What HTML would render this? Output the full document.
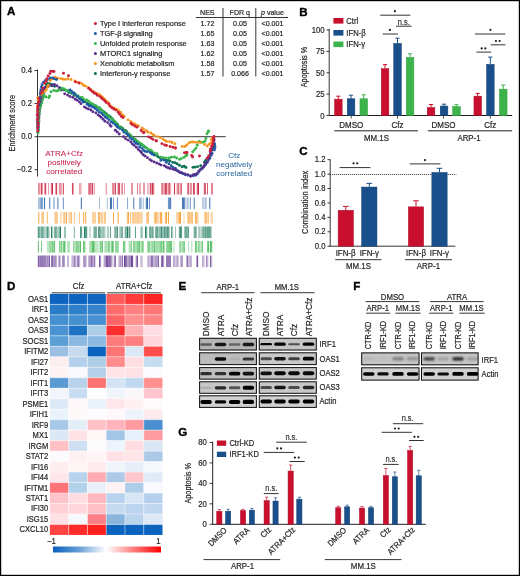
<!DOCTYPE html>
<html><head><meta charset="utf-8"><style>
html,body{margin:0;padding:0;background:#fff;}
svg{display:block;font-family:"Liberation Sans", sans-serif;will-change:transform;}
</style></head><body>
<svg width="520" height="576" viewBox="0 0 520 576">
<rect width="520" height="576" fill="#fff"/>
<rect x="0.5" y="0.5" width="519" height="575" fill="none" stroke="#000" stroke-width="1.4"/>
<text x="6.9" y="15.4" font-size="11.6" font-weight="bold" fill="#000" stroke="#000" stroke-width="0.35">A</text>
<text x="299.3" y="15.9" font-size="11.6" font-weight="bold" fill="#000" stroke="#000" stroke-width="0.35">B</text>
<text x="299.2" y="154.9" font-size="11.6" font-weight="bold" fill="#000" stroke="#000" stroke-width="0.35">C</text>
<text x="6.9" y="289.6" font-size="11.6" font-weight="bold" fill="#000" stroke="#000" stroke-width="0.35">D</text>
<text x="178.4" y="290.2" font-size="11.6" font-weight="bold" fill="#000" stroke="#000" stroke-width="0.35">E</text>
<text x="353.2" y="290.1" font-size="11.6" font-weight="bold" fill="#000" stroke="#000" stroke-width="0.35">F</text>
<text x="178.3" y="436.0" font-size="11.6" font-weight="bold" fill="#000" stroke="#000" stroke-width="0.35">G</text>
<circle cx="95.4" cy="23.50" r="1.5" fill="#cc1f3b"/>
<text x="100" y="26.1" font-size="7.40" text-anchor="start" fill="#231f20" stroke="#231f20" stroke-width="0.2" font-weight="normal" >Type I interferon response</text>
<text x="0" y="0" font-size="7.95" text-anchor="middle" fill="#231f20" stroke="#231f20" stroke-width="0.2" font-weight="normal"  transform="translate(207.5,26.1) scale(0.8929,1)">1.72</text>
<text x="0" y="0" font-size="7.95" text-anchor="middle" fill="#231f20" stroke="#231f20" stroke-width="0.2" font-weight="normal"  transform="translate(240,26.1) scale(0.8929,1)">0.05</text>
<text x="0" y="0" font-size="7.95" text-anchor="middle" fill="#231f20" stroke="#231f20" stroke-width="0.2" font-weight="normal"  transform="translate(272.5,26.1) scale(0.8929,1)">&lt;0.001</text>
<circle cx="95.4" cy="33.48" r="1.5" fill="#1f5aa6"/>
<text x="100" y="36.080000000000005" font-size="7.40" text-anchor="start" fill="#231f20" stroke="#231f20" stroke-width="0.2" font-weight="normal" >TGF-&#946; signaling</text>
<text x="0" y="0" font-size="7.95" text-anchor="middle" fill="#231f20" stroke="#231f20" stroke-width="0.2" font-weight="normal"  transform="translate(207.5,36.080000000000005) scale(0.8929,1)">1.65</text>
<text x="0" y="0" font-size="7.95" text-anchor="middle" fill="#231f20" stroke="#231f20" stroke-width="0.2" font-weight="normal"  transform="translate(240,36.080000000000005) scale(0.8929,1)">0.05</text>
<text x="0" y="0" font-size="7.95" text-anchor="middle" fill="#231f20" stroke="#231f20" stroke-width="0.2" font-weight="normal"  transform="translate(272.5,36.080000000000005) scale(0.8929,1)">&lt;0.001</text>
<circle cx="95.4" cy="43.46" r="1.5" fill="#39b54a"/>
<text x="100" y="46.06" font-size="7.40" text-anchor="start" fill="#231f20" stroke="#231f20" stroke-width="0.2" font-weight="normal" >Unfolded protein response</text>
<text x="0" y="0" font-size="7.95" text-anchor="middle" fill="#231f20" stroke="#231f20" stroke-width="0.2" font-weight="normal"  transform="translate(207.5,46.06) scale(0.8929,1)">1.63</text>
<text x="0" y="0" font-size="7.95" text-anchor="middle" fill="#231f20" stroke="#231f20" stroke-width="0.2" font-weight="normal"  transform="translate(240,46.06) scale(0.8929,1)">0.05</text>
<text x="0" y="0" font-size="7.95" text-anchor="middle" fill="#231f20" stroke="#231f20" stroke-width="0.2" font-weight="normal"  transform="translate(272.5,46.06) scale(0.8929,1)">&lt;0.001</text>
<circle cx="95.4" cy="53.44" r="1.5" fill="#5a2d8c"/>
<text x="100" y="56.04" font-size="7.40" text-anchor="start" fill="#231f20" stroke="#231f20" stroke-width="0.2" font-weight="normal" >MTORC1 signaling</text>
<text x="0" y="0" font-size="7.95" text-anchor="middle" fill="#231f20" stroke="#231f20" stroke-width="0.2" font-weight="normal"  transform="translate(207.5,56.04) scale(0.8929,1)">1.62</text>
<text x="0" y="0" font-size="7.95" text-anchor="middle" fill="#231f20" stroke="#231f20" stroke-width="0.2" font-weight="normal"  transform="translate(240,56.04) scale(0.8929,1)">0.05</text>
<text x="0" y="0" font-size="7.95" text-anchor="middle" fill="#231f20" stroke="#231f20" stroke-width="0.2" font-weight="normal"  transform="translate(272.5,56.04) scale(0.8929,1)">&lt;0.001</text>
<circle cx="95.4" cy="63.42" r="1.5" fill="#f7941d"/>
<text x="100" y="66.02" font-size="7.40" text-anchor="start" fill="#231f20" stroke="#231f20" stroke-width="0.2" font-weight="normal" >Xenobiotic metabolism</text>
<text x="0" y="0" font-size="7.95" text-anchor="middle" fill="#231f20" stroke="#231f20" stroke-width="0.2" font-weight="normal"  transform="translate(207.5,66.02) scale(0.8929,1)">1.58</text>
<text x="0" y="0" font-size="7.95" text-anchor="middle" fill="#231f20" stroke="#231f20" stroke-width="0.2" font-weight="normal"  transform="translate(240,66.02) scale(0.8929,1)">0.05</text>
<text x="0" y="0" font-size="7.95" text-anchor="middle" fill="#231f20" stroke="#231f20" stroke-width="0.2" font-weight="normal"  transform="translate(272.5,66.02) scale(0.8929,1)">&lt;0.001</text>
<circle cx="95.4" cy="73.40" r="1.5" fill="#0a6e52"/>
<text x="100" y="76.0" font-size="7.40" text-anchor="start" fill="#231f20" stroke="#231f20" stroke-width="0.2" font-weight="normal" >Interferon-&#947; response</text>
<text x="0" y="0" font-size="7.95" text-anchor="middle" fill="#231f20" stroke="#231f20" stroke-width="0.2" font-weight="normal"  transform="translate(207.5,76.0) scale(0.8929,1)">1.57</text>
<text x="0" y="0" font-size="7.95" text-anchor="middle" fill="#231f20" stroke="#231f20" stroke-width="0.2" font-weight="normal"  transform="translate(240,76.0) scale(0.8929,1)">0.066</text>
<text x="0" y="0" font-size="7.95" text-anchor="middle" fill="#231f20" stroke="#231f20" stroke-width="0.2" font-weight="normal"  transform="translate(272.5,76.0) scale(0.8929,1)">&lt;0.001</text>
<text x="0" y="0" font-size="7.95" text-anchor="middle" fill="#231f20" stroke="#231f20" stroke-width="0.2" font-weight="normal"  transform="translate(207.3,14.6) scale(0.8929,1)">NES</text>
<text x="0" y="0" font-size="7.95" text-anchor="middle" fill="#231f20" stroke="#231f20" stroke-width="0.2" font-weight="normal"  transform="translate(239.8,14.6) scale(0.8929,1)">FDR q</text>
<text x="0" y="0" transform="translate(272.4,14.6) scale(0.8929,1)" font-size="7.95" text-anchor="middle" fill="#231f20" stroke="#231f20" stroke-width="0.2"><tspan font-style="italic">p</tspan> value</text>
<line x1="195.8" y1="17.5" x2="288" y2="17.5" stroke="#231f20" stroke-width="0.9" />
<line x1="223" y1="7.9" x2="223" y2="76.5" stroke="#231f20" stroke-width="0.9" />
<line x1="255.8" y1="7.9" x2="255.8" y2="76.5" stroke="#231f20" stroke-width="0.9" />
<line x1="37.5" y1="69.5" x2="37.5" y2="176.5" stroke="#231f20" stroke-width="0.9" />
<line x1="34.5" y1="70.5" x2="37.5" y2="70.5" stroke="#231f20" stroke-width="0.9" />
<text x="0" y="0" font-size="8.74" text-anchor="end" fill="#231f20" stroke="#231f20" stroke-width="0.2" font-weight="normal"  transform="translate(32,73.2) scale(0.8929,1)">0.4</text>
<line x1="34.5" y1="103.5" x2="37.5" y2="103.5" stroke="#231f20" stroke-width="0.9" />
<text x="0" y="0" font-size="8.74" text-anchor="end" fill="#231f20" stroke="#231f20" stroke-width="0.2" font-weight="normal"  transform="translate(32,106.2) scale(0.8929,1)">0.2</text>
<line x1="34.5" y1="136.7" x2="37.5" y2="136.7" stroke="#231f20" stroke-width="0.9" />
<text x="0" y="0" font-size="8.74" text-anchor="end" fill="#231f20" stroke="#231f20" stroke-width="0.2" font-weight="normal"  transform="translate(32,139.39999999999998) scale(0.8929,1)">0.0</text>
<line x1="34.5" y1="169.7" x2="37.5" y2="169.7" stroke="#231f20" stroke-width="0.9" />
<text x="0" y="0" font-size="8.74" text-anchor="end" fill="#231f20" stroke="#231f20" stroke-width="0.2" font-weight="normal"  transform="translate(32,172.39999999999998) scale(0.8929,1)">&#8722;0.2</text>
<line x1="37.5" y1="136.7" x2="225.7" y2="136.7" stroke="#231f20" stroke-width="0.9" />
<text x="0" y="0" font-size="8.30" text-anchor="middle" fill="#231f20" stroke="#231f20" stroke-width="0.2" font-weight="normal" transform="translate(14.9,123.2) rotate(-90) scale(0.875,1)">Enrichment score</text>
<text x="64.2" y="155.9" font-size="8.10" text-anchor="middle" fill="#c9244f" stroke="#c9244f" stroke-width="0.05" font-weight="normal" >ATRA+Cfz</text>
<text x="64.2" y="165.1" font-size="8.10" text-anchor="middle" fill="#c9244f" stroke="#c9244f" stroke-width="0.05" font-weight="normal" >positively</text>
<text x="64.2" y="174.3" font-size="8.10" text-anchor="middle" fill="#c9244f" stroke="#c9244f" stroke-width="0.05" font-weight="normal" >correlated</text>
<text x="234.2" y="157.8" font-size="8.10" text-anchor="middle" fill="#336ca6" stroke="#336ca6" stroke-width="0.05" font-weight="normal" >Cfz</text>
<text x="234.2" y="167.0" font-size="8.10" text-anchor="middle" fill="#336ca6" stroke="#336ca6" stroke-width="0.05" font-weight="normal" >negatively</text>
<text x="234.2" y="176.2" font-size="8.10" text-anchor="middle" fill="#336ca6" stroke="#336ca6" stroke-width="0.05" font-weight="normal" >correlated</text>
<g fill="#0a6e52"><circle cx="37.95" cy="127.00" r="1.45"/><circle cx="38.17" cy="123.86" r="1.45"/><circle cx="38.07" cy="121.16" r="1.45"/><circle cx="38.86" cy="118.47" r="1.45"/><circle cx="38.31" cy="116.14" r="1.45"/><circle cx="38.45" cy="113.31" r="1.45"/><circle cx="39.53" cy="110.21" r="1.45"/><circle cx="39.33" cy="108.03" r="1.45"/><circle cx="39.90" cy="106.15" r="1.45"/><circle cx="40.56" cy="104.33" r="1.45"/><circle cx="41.23" cy="101.38" r="1.45"/><circle cx="41.94" cy="98.91" r="1.45"/><circle cx="42.81" cy="96.80" r="1.45"/><circle cx="43.27" cy="93.79" r="1.45"/><circle cx="43.39" cy="91.57" r="1.45"/><circle cx="44.53" cy="88.85" r="1.45"/><circle cx="46.18" cy="87.02" r="1.45"/><circle cx="46.44" cy="85.02" r="1.45"/><circle cx="47.75" cy="83.46" r="1.45"/><circle cx="49.69" cy="83.96" r="1.45"/><circle cx="51.96" cy="84.39" r="1.45"/><circle cx="54.60" cy="86.33" r="1.45"/><circle cx="59.62" cy="87.75" r="1.45"/><circle cx="61.93" cy="88.68" r="1.45"/><circle cx="63.67" cy="89.88" r="1.45"/><circle cx="66.10" cy="90.41" r="1.45"/><circle cx="68.70" cy="92.39" r="1.45"/><circle cx="71.70" cy="93.36" r="1.45"/><circle cx="74.17" cy="95.20" r="1.45"/><circle cx="77.19" cy="96.43" r="1.45"/><circle cx="79.67" cy="98.00" r="1.45"/><circle cx="81.51" cy="98.78" r="1.45"/><circle cx="83.16" cy="100.33" r="1.45"/><circle cx="85.15" cy="101.89" r="1.45"/><circle cx="87.50" cy="103.14" r="1.45"/><circle cx="89.41" cy="104.08" r="1.45"/><circle cx="91.72" cy="104.34" r="1.45"/><circle cx="94.61" cy="105.64" r="1.45"/><circle cx="97.26" cy="107.28" r="1.45"/><circle cx="99.29" cy="107.85" r="1.45"/><circle cx="100.69" cy="109.67" r="1.45"/><circle cx="103.20" cy="111.33" r="1.45"/><circle cx="104.85" cy="112.67" r="1.45"/><circle cx="106.52" cy="114.05" r="1.45"/><circle cx="108.67" cy="115.73" r="1.45"/><circle cx="110.41" cy="117.02" r="1.45"/><circle cx="112.19" cy="118.77" r="1.45"/><circle cx="113.64" cy="120.70" r="1.45"/><circle cx="115.23" cy="122.49" r="1.45"/><circle cx="117.47" cy="124.15" r="1.45"/><circle cx="121.40" cy="127.54" r="1.45"/><circle cx="122.89" cy="128.73" r="1.45"/><circle cx="125.30" cy="130.34" r="1.45"/><circle cx="126.67" cy="131.78" r="1.45"/><circle cx="128.94" cy="133.92" r="1.45"/><circle cx="131.05" cy="136.00" r="1.45"/><circle cx="133.15" cy="137.87" r="1.45"/><circle cx="135.04" cy="139.43" r="1.45"/><circle cx="137.13" cy="141.09" r="1.45"/><circle cx="139.13" cy="142.87" r="1.45"/><circle cx="141.05" cy="144.91" r="1.45"/><circle cx="143.72" cy="146.15" r="1.45"/><circle cx="145.83" cy="147.79" r="1.45"/><circle cx="149.55" cy="150.64" r="1.45"/><circle cx="151.90" cy="152.23" r="1.45"/><circle cx="156.35" cy="155.34" r="1.45"/><circle cx="158.00" cy="156.68" r="1.45"/><circle cx="160.21" cy="157.99" r="1.45"/><circle cx="163.07" cy="158.26" r="1.45"/><circle cx="165.65" cy="159.92" r="1.45"/><circle cx="168.03" cy="160.40" r="1.45"/><circle cx="170.00" cy="161.00" r="1.45"/><circle cx="172.75" cy="162.33" r="1.45"/><circle cx="175.04" cy="162.66" r="1.45"/><circle cx="177.07" cy="163.71" r="1.45"/><circle cx="179.39" cy="165.19" r="1.45"/><circle cx="182.07" cy="166.76" r="1.45"/><circle cx="184.22" cy="166.32" r="1.45"/><circle cx="185.91" cy="167.49" r="1.45"/><circle cx="192.96" cy="167.34" r="1.45"/><circle cx="194.93" cy="167.16" r="1.45"/><circle cx="197.61" cy="166.64" r="1.45"/><circle cx="200.67" cy="165.66" r="1.45"/><circle cx="204.46" cy="162.29" r="1.45"/><circle cx="205.65" cy="160.34" r="1.45"/><circle cx="207.51" cy="158.52" r="1.45"/><circle cx="209.10" cy="156.69" r="1.45"/><circle cx="210.44" cy="155.05" r="1.45"/><circle cx="210.68" cy="152.95" r="1.45"/><circle cx="211.66" cy="149.98" r="1.45"/><circle cx="213.18" cy="147.30" r="1.45"/><circle cx="214.18" cy="144.99" r="1.45"/><circle cx="214.50" cy="144.00" r="1.45"/></g>
<g fill="#1f5aa6"><circle cx="160.96" cy="160.32" r="1.45"/><circle cx="163.88" cy="160.07" r="1.45"/><circle cx="166.21" cy="162.23" r="1.45"/><circle cx="168.85" cy="163.72" r="1.45"/><circle cx="171.16" cy="165.68" r="1.45"/><circle cx="173.03" cy="167.33" r="1.45"/><circle cx="175.38" cy="168.44" r="1.45"/><circle cx="176.48" cy="170.24" r="1.45"/><circle cx="178.47" cy="171.56" r="1.45"/><circle cx="180.45" cy="172.24" r="1.45"/><circle cx="183.12" cy="173.74" r="1.45"/><circle cx="185.46" cy="174.79" r="1.45"/><circle cx="187.66" cy="175.06" r="1.45"/><circle cx="190.45" cy="175.80" r="1.45"/><circle cx="193.47" cy="175.82" r="1.45"/><circle cx="195.83" cy="175.15" r="1.45"/><circle cx="197.37" cy="173.63" r="1.45"/><circle cx="199.01" cy="171.60" r="1.45"/><circle cx="200.69" cy="169.60" r="1.45"/><circle cx="202.31" cy="168.48" r="1.45"/><circle cx="203.82" cy="166.60" r="1.45"/><circle cx="205.55" cy="164.72" r="1.45"/><circle cx="207.12" cy="162.64" r="1.45"/><circle cx="208.61" cy="159.86" r="1.45"/><circle cx="209.81" cy="158.19" r="1.45"/><circle cx="211.10" cy="155.37" r="1.45"/><circle cx="212.07" cy="153.46" r="1.45"/><circle cx="214.28" cy="150.06" r="1.45"/><circle cx="214.72" cy="148.37" r="1.45"/><circle cx="214.93" cy="146.33" r="1.45"/><circle cx="214.50" cy="144.00" r="1.45"/></g>
<g fill="#5a2d8c"><circle cx="37.75" cy="132.00" r="1.45"/><circle cx="37.94" cy="129.40" r="1.45"/><circle cx="38.03" cy="126.95" r="1.45"/><circle cx="38.13" cy="124.80" r="1.45"/><circle cx="38.35" cy="122.19" r="1.45"/><circle cx="37.85" cy="119.11" r="1.45"/><circle cx="38.91" cy="116.24" r="1.45"/><circle cx="39.23" cy="113.95" r="1.45"/><circle cx="39.63" cy="110.73" r="1.45"/><circle cx="39.76" cy="108.52" r="1.45"/><circle cx="40.13" cy="106.55" r="1.45"/><circle cx="39.92" cy="103.51" r="1.45"/><circle cx="40.36" cy="100.73" r="1.45"/><circle cx="41.79" cy="98.14" r="1.45"/><circle cx="41.79" cy="96.07" r="1.45"/><circle cx="42.57" cy="93.62" r="1.45"/><circle cx="43.62" cy="89.14" r="1.45"/><circle cx="44.90" cy="87.51" r="1.45"/><circle cx="47.77" cy="86.83" r="1.45"/><circle cx="49.59" cy="85.57" r="1.45"/><circle cx="52.19" cy="85.68" r="1.45"/><circle cx="54.45" cy="84.54" r="1.45"/><circle cx="56.89" cy="85.73" r="1.45"/><circle cx="59.13" cy="87.84" r="1.45"/><circle cx="61.07" cy="90.00" r="1.45"/><circle cx="64.69" cy="93.84" r="1.45"/><circle cx="67.50" cy="95.08" r="1.45"/><circle cx="69.84" cy="96.38" r="1.45"/><circle cx="72.66" cy="97.35" r="1.45"/><circle cx="75.13" cy="98.94" r="1.45"/><circle cx="77.05" cy="100.28" r="1.45"/><circle cx="79.39" cy="101.88" r="1.45"/><circle cx="80.95" cy="103.63" r="1.45"/><circle cx="84.35" cy="106.83" r="1.45"/><circle cx="86.18" cy="108.09" r="1.45"/><circle cx="88.40" cy="108.88" r="1.45"/><circle cx="90.75" cy="110.00" r="1.45"/><circle cx="92.91" cy="111.75" r="1.45"/><circle cx="95.98" cy="112.92" r="1.45"/><circle cx="98.15" cy="114.91" r="1.45"/><circle cx="99.71" cy="116.08" r="1.45"/><circle cx="101.25" cy="117.38" r="1.45"/><circle cx="103.14" cy="119.22" r="1.45"/><circle cx="104.91" cy="121.26" r="1.45"/><circle cx="107.71" cy="122.61" r="1.45"/><circle cx="109.79" cy="124.65" r="1.45"/><circle cx="111.02" cy="126.37" r="1.45"/><circle cx="115.30" cy="130.19" r="1.45"/><circle cx="117.25" cy="132.06" r="1.45"/><circle cx="119.25" cy="133.97" r="1.45"/><circle cx="123.60" cy="136.65" r="1.45"/><circle cx="125.66" cy="138.71" r="1.45"/><circle cx="128.21" cy="140.14" r="1.45"/><circle cx="130.76" cy="142.06" r="1.45"/><circle cx="132.43" cy="143.92" r="1.45"/><circle cx="134.13" cy="145.34" r="1.45"/><circle cx="136.28" cy="147.23" r="1.45"/><circle cx="138.30" cy="149.45" r="1.45"/><circle cx="140.34" cy="151.28" r="1.45"/><circle cx="141.55" cy="152.81" r="1.45"/><circle cx="143.11" cy="154.78" r="1.45"/><circle cx="144.99" cy="156.00" r="1.45"/><circle cx="147.43" cy="157.64" r="1.45"/><circle cx="149.96" cy="159.59" r="1.45"/><circle cx="151.57" cy="160.85" r="1.45"/><circle cx="154.11" cy="161.89" r="1.45"/><circle cx="156.72" cy="162.97" r="1.45"/><circle cx="159.26" cy="164.02" r="1.45"/><circle cx="161.15" cy="165.11" r="1.45"/><circle cx="164.33" cy="165.65" r="1.45"/><circle cx="166.16" cy="166.98" r="1.45"/><circle cx="168.04" cy="167.72" r="1.45"/><circle cx="169.89" cy="168.48" r="1.45"/><circle cx="172.59" cy="169.06" r="1.45"/><circle cx="174.65" cy="169.72" r="1.45"/><circle cx="177.52" cy="170.79" r="1.45"/><circle cx="180.02" cy="172.49" r="1.45"/><circle cx="182.12" cy="173.04" r="1.45"/><circle cx="184.96" cy="173.99" r="1.45"/><circle cx="188.04" cy="174.93" r="1.45"/><circle cx="190.65" cy="176.33" r="1.45"/><circle cx="192.95" cy="175.02" r="1.45"/><circle cx="194.65" cy="174.38" r="1.45"/><circle cx="197.07" cy="173.39" r="1.45"/><circle cx="198.88" cy="171.02" r="1.45"/><circle cx="200.85" cy="169.05" r="1.45"/><circle cx="203.23" cy="167.36" r="1.45"/><circle cx="204.33" cy="165.57" r="1.45"/><circle cx="205.45" cy="163.51" r="1.45"/><circle cx="207.50" cy="161.64" r="1.45"/><circle cx="208.44" cy="158.60" r="1.45"/><circle cx="209.09" cy="156.40" r="1.45"/><circle cx="210.70" cy="153.61" r="1.45"/><circle cx="210.88" cy="151.17" r="1.45"/><circle cx="211.57" cy="148.85" r="1.45"/><circle cx="212.69" cy="146.42" r="1.45"/><circle cx="213.12" cy="143.40" r="1.45"/><circle cx="214.04" cy="140.61" r="1.45"/><circle cx="214.00" cy="139.00" r="1.45"/></g>
<g fill="#39b54a"><circle cx="38.02" cy="133.00" r="1.45"/><circle cx="38.61" cy="130.37" r="1.45"/><circle cx="37.88" cy="127.35" r="1.45"/><circle cx="38.06" cy="124.40" r="1.45"/><circle cx="39.04" cy="121.56" r="1.45"/><circle cx="38.43" cy="118.77" r="1.45"/><circle cx="38.69" cy="116.01" r="1.45"/><circle cx="39.32" cy="113.13" r="1.45"/><circle cx="39.52" cy="110.71" r="1.45"/><circle cx="40.12" cy="107.97" r="1.45"/><circle cx="40.78" cy="105.18" r="1.45"/><circle cx="41.60" cy="102.91" r="1.45"/><circle cx="42.50" cy="100.00" r="1.45"/><circle cx="43.55" cy="97.08" r="1.45"/><circle cx="43.99" cy="95.53" r="1.45"/><circle cx="46.03" cy="96.92" r="1.45"/><circle cx="48.83" cy="97.64" r="1.45"/><circle cx="49.61" cy="96.01" r="1.45"/><circle cx="51.00" cy="91.73" r="1.45"/><circle cx="53.80" cy="90.38" r="1.45"/><circle cx="56.28" cy="90.93" r="1.45"/><circle cx="58.23" cy="90.56" r="1.45"/><circle cx="59.87" cy="89.90" r="1.45"/><circle cx="62.20" cy="88.18" r="1.45"/><circle cx="64.31" cy="89.00" r="1.45"/><circle cx="66.30" cy="90.22" r="1.45"/><circle cx="68.74" cy="90.88" r="1.45"/><circle cx="71.71" cy="91.86" r="1.45"/><circle cx="74.46" cy="93.52" r="1.45"/><circle cx="75.86" cy="94.95" r="1.45"/><circle cx="78.12" cy="95.86" r="1.45"/><circle cx="79.83" cy="97.46" r="1.45"/><circle cx="82.24" cy="97.57" r="1.45"/><circle cx="84.02" cy="99.34" r="1.45"/><circle cx="86.73" cy="99.98" r="1.45"/><circle cx="88.74" cy="101.19" r="1.45"/><circle cx="90.71" cy="102.91" r="1.45"/><circle cx="92.65" cy="104.03" r="1.45"/><circle cx="95.37" cy="105.13" r="1.45"/><circle cx="97.72" cy="107.22" r="1.45"/><circle cx="99.78" cy="108.13" r="1.45"/><circle cx="101.56" cy="109.82" r="1.45"/><circle cx="102.98" cy="112.13" r="1.45"/><circle cx="105.23" cy="114.06" r="1.45"/><circle cx="106.64" cy="115.55" r="1.45"/><circle cx="108.96" cy="116.80" r="1.45"/><circle cx="111.44" cy="118.54" r="1.45"/><circle cx="112.91" cy="119.86" r="1.45"/><circle cx="115.00" cy="121.81" r="1.45"/><circle cx="116.42" cy="123.27" r="1.45"/><circle cx="118.37" cy="125.84" r="1.45"/><circle cx="120.08" cy="126.80" r="1.45"/><circle cx="121.59" cy="128.42" r="1.45"/><circle cx="122.71" cy="130.00" r="1.45"/><circle cx="124.59" cy="131.14" r="1.45"/><circle cx="126.47" cy="132.61" r="1.45"/><circle cx="128.36" cy="134.00" r="1.45"/><circle cx="130.21" cy="135.28" r="1.45"/><circle cx="131.44" cy="137.39" r="1.45"/><circle cx="133.98" cy="138.86" r="1.45"/><circle cx="135.60" cy="139.94" r="1.45"/><circle cx="137.71" cy="141.87" r="1.45"/><circle cx="139.73" cy="143.23" r="1.45"/><circle cx="141.64" cy="143.96" r="1.45"/><circle cx="143.13" cy="145.38" r="1.45"/><circle cx="145.61" cy="147.28" r="1.45"/><circle cx="147.81" cy="149.00" r="1.45"/><circle cx="150.09" cy="149.86" r="1.45"/><circle cx="151.68" cy="150.89" r="1.45"/><circle cx="154.25" cy="152.89" r="1.45"/><circle cx="156.90" cy="153.82" r="1.45"/><circle cx="157.00" cy="154.50" r="1.45"/></g>
<g fill="#39b54a"><circle cx="160.96" cy="157.15" r="1.45"/><circle cx="163.32" cy="157.59" r="1.45"/><circle cx="166.29" cy="157.98" r="1.45"/><circle cx="169.23" cy="157.98" r="1.45"/><circle cx="171.51" cy="157.17" r="1.45"/><circle cx="174.40" cy="157.02" r="1.45"/><circle cx="176.67" cy="158.06" r="1.45"/><circle cx="179.55" cy="159.40" r="1.45"/><circle cx="181.27" cy="158.58" r="1.45"/><circle cx="183.84" cy="157.39" r="1.45"/><circle cx="185.73" cy="156.01" r="1.45"/><circle cx="187.00" cy="155.00" r="1.45"/></g>
<g fill="#39b54a"><circle cx="192.70" cy="151.80" r="1.45"/><circle cx="194.51" cy="149.85" r="1.45"/><circle cx="195.98" cy="148.11" r="1.45"/><circle cx="197.17" cy="145.32" r="1.45"/><circle cx="197.82" cy="142.37" r="1.45"/><circle cx="199.12" cy="141.33" r="1.45"/><circle cx="201.11" cy="142.09" r="1.45"/><circle cx="203.05" cy="142.35" r="1.45"/><circle cx="204.87" cy="141.13" r="1.45"/><circle cx="205.89" cy="138.51" r="1.45"/><circle cx="207.06" cy="133.81" r="1.45"/><circle cx="208.23" cy="131.70" r="1.45"/><circle cx="208.50" cy="131.00" r="1.45"/></g>
<g fill="#f7941d"><circle cx="37.76" cy="128.01" r="1.45"/><circle cx="37.52" cy="122.88" r="1.45"/><circle cx="37.77" cy="120.17" r="1.45"/><circle cx="37.93" cy="117.44" r="1.45"/><circle cx="37.65" cy="114.53" r="1.45"/><circle cx="37.95" cy="111.50" r="1.45"/><circle cx="37.65" cy="109.03" r="1.45"/><circle cx="37.59" cy="106.44" r="1.45"/><circle cx="37.92" cy="100.44" r="1.45"/><circle cx="37.76" cy="97.75" r="1.45"/><circle cx="38.36" cy="98.79" r="1.45"/><circle cx="38.86" cy="98.82" r="1.45"/><circle cx="39.98" cy="97.22" r="1.45"/><circle cx="40.72" cy="95.11" r="1.45"/><circle cx="42.13" cy="93.33" r="1.45"/><circle cx="44.86" cy="91.55" r="1.45"/><circle cx="46.42" cy="89.60" r="1.45"/><circle cx="47.49" cy="86.87" r="1.45"/><circle cx="48.46" cy="85.10" r="1.45"/><circle cx="50.16" cy="80.57" r="1.45"/><circle cx="51.65" cy="79.17" r="1.45"/><circle cx="53.42" cy="77.86" r="1.45"/><circle cx="55.42" cy="77.30" r="1.45"/><circle cx="57.58" cy="78.21" r="1.45"/><circle cx="60.76" cy="78.62" r="1.45"/><circle cx="63.00" cy="79.26" r="1.45"/><circle cx="65.13" cy="79.36" r="1.45"/><circle cx="67.72" cy="79.01" r="1.45"/><circle cx="70.93" cy="79.44" r="1.45"/><circle cx="74.78" cy="81.01" r="1.45"/><circle cx="77.59" cy="82.37" r="1.45"/><circle cx="79.55" cy="83.02" r="1.45"/><circle cx="82.00" cy="83.71" r="1.45"/><circle cx="83.65" cy="85.43" r="1.45"/><circle cx="85.71" cy="86.12" r="1.45"/><circle cx="88.18" cy="87.76" r="1.45"/><circle cx="90.70" cy="89.56" r="1.45"/><circle cx="92.44" cy="91.09" r="1.45"/><circle cx="94.48" cy="92.08" r="1.45"/><circle cx="97.30" cy="93.67" r="1.45"/><circle cx="99.70" cy="94.76" r="1.45"/><circle cx="101.38" cy="96.36" r="1.45"/><circle cx="102.88" cy="97.68" r="1.45"/><circle cx="104.56" cy="99.12" r="1.45"/><circle cx="105.78" cy="100.97" r="1.45"/><circle cx="107.44" cy="101.98" r="1.45"/><circle cx="108.57" cy="104.15" r="1.45"/><circle cx="110.19" cy="105.58" r="1.45"/><circle cx="111.95" cy="107.15" r="1.45"/><circle cx="114.33" cy="108.17" r="1.45"/><circle cx="116.84" cy="109.45" r="1.45"/><circle cx="118.39" cy="110.79" r="1.45"/><circle cx="120.69" cy="112.32" r="1.45"/><circle cx="122.38" cy="114.79" r="1.45"/><circle cx="124.15" cy="116.13" r="1.45"/><circle cx="128.01" cy="119.86" r="1.45"/><circle cx="130.69" cy="121.46" r="1.45"/><circle cx="131.93" cy="122.93" r="1.45"/><circle cx="134.32" cy="123.62" r="1.45"/><circle cx="135.94" cy="124.91" r="1.45"/><circle cx="138.44" cy="125.73" r="1.45"/><circle cx="142.05" cy="127.94" r="1.45"/><circle cx="143.76" cy="129.39" r="1.45"/><circle cx="146.48" cy="130.67" r="1.45"/><circle cx="148.06" cy="132.14" r="1.45"/><circle cx="150.95" cy="133.06" r="1.45"/><circle cx="152.91" cy="134.41" r="1.45"/><circle cx="154.42" cy="135.64" r="1.45"/><circle cx="157.50" cy="136.62" r="1.45"/><circle cx="160.27" cy="137.62" r="1.45"/><circle cx="162.99" cy="139.09" r="1.45"/><circle cx="164.91" cy="140.37" r="1.45"/><circle cx="166.56" cy="141.49" r="1.45"/><circle cx="169.55" cy="141.58" r="1.45"/><circle cx="172.03" cy="142.53" r="1.45"/><circle cx="174.91" cy="143.82" r="1.45"/><circle cx="182.29" cy="146.54" r="1.45"/><circle cx="184.87" cy="146.50" r="1.45"/><circle cx="186.81" cy="145.06" r="1.45"/><circle cx="188.95" cy="142.95" r="1.45"/><circle cx="190.93" cy="142.10" r="1.45"/><circle cx="193.06" cy="142.01" r="1.45"/><circle cx="195.29" cy="142.33" r="1.45"/><circle cx="197.93" cy="142.36" r="1.45"/><circle cx="200.45" cy="142.58" r="1.45"/><circle cx="204.53" cy="144.47" r="1.45"/><circle cx="207.24" cy="146.12" r="1.45"/><circle cx="208.99" cy="144.36" r="1.45"/><circle cx="210.72" cy="142.83" r="1.45"/><circle cx="211.19" cy="139.58" r="1.45"/><circle cx="212.48" cy="137.55" r="1.45"/><circle cx="213.00" cy="137.50" r="1.45"/></g>
<g fill="#1f5aa6"><circle cx="38.27" cy="128.00" r="1.45"/><circle cx="37.89" cy="126.05" r="1.45"/><circle cx="37.65" cy="124.12" r="1.45"/><circle cx="37.81" cy="122.20" r="1.45"/><circle cx="37.64" cy="119.58" r="1.45"/><circle cx="38.23" cy="117.34" r="1.45"/><circle cx="37.70" cy="115.27" r="1.45"/><circle cx="37.91" cy="112.41" r="1.45"/><circle cx="38.06" cy="109.33" r="1.45"/><circle cx="38.99" cy="105.16" r="1.45"/><circle cx="39.70" cy="102.24" r="1.45"/><circle cx="40.00" cy="99.47" r="1.45"/><circle cx="40.17" cy="96.64" r="1.45"/><circle cx="40.20" cy="93.54" r="1.45"/><circle cx="40.69" cy="91.59" r="1.45"/><circle cx="40.95" cy="89.64" r="1.45"/><circle cx="41.35" cy="87.12" r="1.45"/><circle cx="42.02" cy="84.77" r="1.45"/><circle cx="43.37" cy="82.36" r="1.45"/><circle cx="45.16" cy="80.80" r="1.45"/><circle cx="47.54" cy="79.55" r="1.45"/><circle cx="49.92" cy="77.94" r="1.45"/><circle cx="52.46" cy="77.86" r="1.45"/><circle cx="54.21" cy="78.84" r="1.45"/><circle cx="56.40" cy="79.50" r="1.45"/></g>
<g fill="#1f5aa6"><circle cx="69.91" cy="89.86" r="1.45"/><circle cx="71.38" cy="91.08" r="1.45"/><circle cx="73.50" cy="92.68" r="1.45"/><circle cx="75.03" cy="94.18" r="1.45"/><circle cx="77.50" cy="96.20" r="1.45"/><circle cx="79.54" cy="98.66" r="1.45"/><circle cx="81.79" cy="100.25" r="1.45"/><circle cx="83.26" cy="102.06" r="1.45"/><circle cx="87.18" cy="104.20" r="1.45"/><circle cx="88.92" cy="105.87" r="1.45"/><circle cx="91.16" cy="106.31" r="1.45"/><circle cx="93.20" cy="107.16" r="1.45"/><circle cx="95.21" cy="108.51" r="1.45"/><circle cx="97.40" cy="110.25" r="1.45"/><circle cx="99.33" cy="112.08" r="1.45"/><circle cx="101.48" cy="113.11" r="1.45"/><circle cx="103.08" cy="114.81" r="1.45"/><circle cx="105.08" cy="116.73" r="1.45"/><circle cx="106.80" cy="117.97" r="1.45"/><circle cx="108.85" cy="119.67" r="1.45"/><circle cx="110.96" cy="121.65" r="1.45"/><circle cx="112.81" cy="122.89" r="1.45"/><circle cx="114.94" cy="124.39" r="1.45"/><circle cx="116.43" cy="125.68" r="1.45"/><circle cx="117.71" cy="127.29" r="1.45"/><circle cx="119.83" cy="128.62" r="1.45"/><circle cx="122.49" cy="130.16" r="1.45"/><circle cx="124.10" cy="132.33" r="1.45"/><circle cx="126.62" cy="133.78" r="1.45"/><circle cx="128.33" cy="135.35" r="1.45"/><circle cx="130.26" cy="137.72" r="1.45"/><circle cx="132.08" cy="139.37" r="1.45"/><circle cx="134.15" cy="141.57" r="1.45"/><circle cx="135.93" cy="143.17" r="1.45"/><circle cx="137.91" cy="144.15" r="1.45"/><circle cx="139.67" cy="146.96" r="1.45"/><circle cx="142.15" cy="148.40" r="1.45"/><circle cx="143.64" cy="150.38" r="1.45"/><circle cx="145.39" cy="151.39" r="1.45"/><circle cx="147.35" cy="151.71" r="1.45"/><circle cx="150.44" cy="152.79" r="1.45"/><circle cx="151.96" cy="154.03" r="1.45"/><circle cx="154.00" cy="155.00" r="1.45"/></g>
<g fill="#cc1f3b"><circle cx="37.81" cy="131.01" r="1.45"/><circle cx="37.69" cy="127.98" r="1.45"/><circle cx="38.09" cy="125.24" r="1.45"/><circle cx="37.94" cy="122.83" r="1.45"/><circle cx="37.30" cy="119.88" r="1.45"/><circle cx="38.04" cy="117.86" r="1.45"/><circle cx="37.33" cy="115.29" r="1.45"/><circle cx="37.85" cy="113.40" r="1.45"/><circle cx="37.67" cy="110.66" r="1.45"/><circle cx="37.86" cy="108.13" r="1.45"/><circle cx="37.75" cy="106.15" r="1.45"/><circle cx="37.99" cy="103.87" r="1.45"/><circle cx="39.16" cy="101.43" r="1.45"/><circle cx="38.95" cy="98.33" r="1.45"/><circle cx="41.00" cy="93.10" r="1.45"/><circle cx="42.06" cy="91.09" r="1.45"/><circle cx="42.78" cy="87.90" r="1.45"/><circle cx="44.48" cy="83.19" r="1.45"/><circle cx="46.11" cy="81.35" r="1.45"/><circle cx="46.72" cy="78.75" r="1.45"/><circle cx="48.13" cy="75.95" r="1.45"/><circle cx="49.99" cy="73.47" r="1.45"/><circle cx="50.76" cy="71.17" r="1.45"/><circle cx="52.77" cy="71.33" r="1.45"/><circle cx="54.00" cy="71.50" r="1.45"/></g>
<g fill="#cc1f3b"><circle cx="63.50" cy="73.30" r="1.45"/></g>
<g fill="#cc1f3b"><circle cx="68.50" cy="75.80" r="1.45"/></g>
<g fill="#cc1f3b"><circle cx="75.53" cy="81.91" r="1.45"/><circle cx="79.00" cy="83.00" r="1.45"/></g>
<g fill="#cc1f3b"><circle cx="88.76" cy="88.28" r="1.45"/><circle cx="90.42" cy="90.04" r="1.45"/><circle cx="92.34" cy="91.44" r="1.45"/><circle cx="94.00" cy="93.00" r="1.45"/><circle cx="95.94" cy="93.75" r="1.45"/><circle cx="97.43" cy="95.38" r="1.45"/><circle cx="100.02" cy="96.61" r="1.45"/><circle cx="101.54" cy="98.04" r="1.45"/><circle cx="102.92" cy="99.34" r="1.45"/><circle cx="104.70" cy="100.81" r="1.45"/><circle cx="106.17" cy="102.43" r="1.45"/><circle cx="108.85" cy="103.80" r="1.45"/><circle cx="109.99" cy="106.15" r="1.45"/><circle cx="111.92" cy="107.70" r="1.45"/><circle cx="113.71" cy="109.06" r="1.45"/><circle cx="115.85" cy="110.09" r="1.45"/><circle cx="118.28" cy="112.28" r="1.45"/><circle cx="119.62" cy="114.32" r="1.45"/><circle cx="121.37" cy="116.42" r="1.45"/><circle cx="123.00" cy="117.50" r="1.45"/></g>
<g fill="#cc1f3b"><circle cx="131.00" cy="123.50" r="1.45"/><circle cx="132.54" cy="124.86" r="1.45"/><circle cx="134.75" cy="126.04" r="1.45"/><circle cx="136.92" cy="127.15" r="1.45"/><circle cx="141.12" cy="130.52" r="1.45"/><circle cx="143.10" cy="132.42" r="1.45"/><circle cx="144.00" cy="132.50" r="1.45"/></g>
<g fill="#cc1f3b"><circle cx="148.74" cy="136.92" r="1.45"/><circle cx="150.83" cy="137.92" r="1.45"/><circle cx="152.83" cy="139.33" r="1.45"/><circle cx="155.83" cy="140.61" r="1.45"/><circle cx="156.50" cy="141.00" r="1.45"/></g>
<g fill="#cc1f3b"><circle cx="161.94" cy="143.64" r="1.45"/><circle cx="164.63" cy="145.00" r="1.45"/><circle cx="166.50" cy="145.50" r="1.45"/></g>
<g fill="#cc1f3b"><circle cx="170.08" cy="146.57" r="1.45"/><circle cx="172.85" cy="147.27" r="1.45"/><circle cx="175.26" cy="147.99" r="1.45"/><circle cx="175.50" cy="148.00" r="1.45"/></g>
<g fill="#cc1f3b"><circle cx="184.46" cy="152.78" r="1.45"/><circle cx="186.45" cy="152.67" r="1.45"/><circle cx="187.00" cy="152.50" r="1.45"/></g>
<g fill="#cc1f3b"><circle cx="191.71" cy="155.36" r="1.45"/><circle cx="192.50" cy="157.00" r="1.45"/></g>
<g fill="#cc1f3b"><circle cx="199.50" cy="156.00" r="1.45"/></g>
<g fill="#cc1f3b"><circle cx="207.12" cy="158.24" r="1.45"/><circle cx="208.81" cy="155.65" r="1.45"/><circle cx="210.24" cy="151.20" r="1.45"/><circle cx="210.42" cy="149.06" r="1.45"/><circle cx="211.72" cy="146.31" r="1.45"/><circle cx="212.60" cy="144.50" r="1.45"/><circle cx="213.13" cy="141.79" r="1.45"/><circle cx="213.34" cy="139.64" r="1.45"/><circle cx="213.43" cy="137.71" r="1.45"/><circle cx="214.00" cy="136.50" r="1.45"/></g>
<rect x="38.35" y="183.00" width="0.90" height="11.60" fill="#c8102e" opacity="0.75"/>
<rect x="39.50" y="183.00" width="0.90" height="11.60" fill="#c8102e" opacity="0.6"/>
<rect x="41.05" y="183.00" width="0.90" height="11.60" fill="#c8102e" opacity="0.9"/>
<rect x="42.15" y="183.00" width="0.90" height="11.60" fill="#c8102e" opacity="0.45"/>
<rect x="44.15" y="183.00" width="0.90" height="11.60" fill="#c8102e" opacity="0.45"/>
<rect x="45.25" y="183.00" width="0.90" height="11.60" fill="#c8102e" opacity="1.0"/>
<rect x="48.05" y="183.00" width="0.90" height="11.60" fill="#c8102e" opacity="0.45"/>
<rect x="50.85" y="183.00" width="0.90" height="11.60" fill="#c8102e" opacity="0.75"/>
<rect x="52.00" y="183.00" width="0.90" height="11.60" fill="#c8102e" opacity="1.0"/>
<rect x="55.05" y="183.00" width="0.90" height="11.60" fill="#c8102e" opacity="0.45"/>
<rect x="56.20" y="183.00" width="0.90" height="11.60" fill="#c8102e" opacity="1.0"/>
<rect x="58.95" y="183.00" width="0.90" height="11.60" fill="#c8102e" opacity="0.6"/>
<rect x="60.10" y="183.00" width="0.90" height="11.60" fill="#c8102e" opacity="0.45"/>
<rect x="61.25" y="183.00" width="0.90" height="11.60" fill="#c8102e" opacity="0.45"/>
<rect x="62.85" y="183.00" width="0.90" height="11.60" fill="#c8102e" opacity="0.9"/>
<rect x="71.95" y="183.00" width="0.90" height="11.60" fill="#c8102e" opacity="0.9"/>
<rect x="73.10" y="183.00" width="0.90" height="11.60" fill="#c8102e" opacity="0.45"/>
<rect x="79.35" y="183.00" width="0.90" height="11.60" fill="#c8102e" opacity="0.6"/>
<rect x="80.50" y="183.00" width="0.90" height="11.60" fill="#c8102e" opacity="0.45"/>
<rect x="88.55" y="183.00" width="0.90" height="11.60" fill="#c8102e" opacity="1.0"/>
<rect x="89.70" y="183.00" width="0.90" height="11.60" fill="#c8102e" opacity="0.9"/>
<rect x="91.05" y="183.00" width="0.90" height="11.60" fill="#c8102e" opacity="0.45"/>
<rect x="92.20" y="183.00" width="0.90" height="11.60" fill="#c8102e" opacity="1.0"/>
<rect x="94.15" y="183.00" width="0.90" height="11.60" fill="#c8102e" opacity="0.45"/>
<rect x="105.75" y="183.00" width="0.90" height="11.60" fill="#c8102e" opacity="0.6"/>
<rect x="112.55" y="183.00" width="0.90" height="11.60" fill="#c8102e" opacity="1.0"/>
<rect x="113.70" y="183.00" width="0.90" height="11.60" fill="#c8102e" opacity="0.45"/>
<rect x="114.85" y="183.00" width="0.90" height="11.60" fill="#c8102e" opacity="1.0"/>
<rect x="117.75" y="183.00" width="0.90" height="11.60" fill="#c8102e" opacity="1.0"/>
<rect x="118.90" y="183.00" width="0.90" height="11.60" fill="#c8102e" opacity="0.9"/>
<rect x="120.85" y="183.00" width="0.90" height="11.60" fill="#c8102e" opacity="0.45"/>
<rect x="122.00" y="183.00" width="0.90" height="11.60" fill="#c8102e" opacity="0.6"/>
<rect x="124.05" y="183.00" width="0.90" height="11.60" fill="#c8102e" opacity="0.45"/>
<rect x="131.55" y="183.00" width="0.90" height="11.60" fill="#c8102e" opacity="1.0"/>
<rect x="136.95" y="183.00" width="0.90" height="11.60" fill="#c8102e" opacity="0.6"/>
<rect x="139.55" y="183.00" width="0.90" height="11.60" fill="#c8102e" opacity="0.75"/>
<rect x="143.55" y="183.00" width="0.90" height="11.60" fill="#c8102e" opacity="0.9"/>
<rect x="147.55" y="183.00" width="0.90" height="11.60" fill="#c8102e" opacity="0.6"/>
<rect x="149.85" y="183.00" width="0.90" height="11.60" fill="#c8102e" opacity="1.0"/>
<rect x="151.00" y="183.00" width="0.90" height="11.60" fill="#c8102e" opacity="0.45"/>
<rect x="152.15" y="183.00" width="0.90" height="11.60" fill="#c8102e" opacity="1.0"/>
<rect x="153.30" y="183.00" width="0.90" height="11.60" fill="#c8102e" opacity="0.75"/>
<rect x="161.55" y="183.00" width="0.90" height="11.60" fill="#c8102e" opacity="1.0"/>
<rect x="162.70" y="183.00" width="0.90" height="11.60" fill="#c8102e" opacity="0.6"/>
<rect x="164.05" y="183.00" width="0.90" height="11.60" fill="#c8102e" opacity="0.45"/>
<rect x="165.20" y="183.00" width="0.90" height="11.60" fill="#c8102e" opacity="1.0"/>
<rect x="166.35" y="183.00" width="0.90" height="11.60" fill="#c8102e" opacity="1.0"/>
<rect x="167.95" y="183.00" width="0.90" height="11.60" fill="#c8102e" opacity="0.6"/>
<rect x="169.10" y="183.00" width="0.90" height="11.60" fill="#c8102e" opacity="0.75"/>
<rect x="170.25" y="183.00" width="0.90" height="11.60" fill="#c8102e" opacity="0.45"/>
<rect x="174.15" y="183.00" width="0.90" height="11.60" fill="#c8102e" opacity="1.0"/>
<rect x="176.55" y="183.00" width="0.90" height="11.60" fill="#c8102e" opacity="0.45"/>
<rect x="177.70" y="183.00" width="0.90" height="11.60" fill="#c8102e" opacity="1.0"/>
<rect x="179.55" y="183.00" width="0.90" height="11.60" fill="#c8102e" opacity="0.45"/>
<rect x="180.70" y="183.00" width="0.90" height="11.60" fill="#c8102e" opacity="1.0"/>
<rect x="187.15" y="183.00" width="0.90" height="11.60" fill="#c8102e" opacity="0.6"/>
<rect x="188.30" y="183.00" width="0.90" height="11.60" fill="#c8102e" opacity="0.9"/>
<rect x="190.55" y="183.00" width="0.90" height="11.60" fill="#c8102e" opacity="1.0"/>
<rect x="192.95" y="183.00" width="0.90" height="11.60" fill="#c8102e" opacity="0.9"/>
<rect x="194.10" y="183.00" width="0.90" height="11.60" fill="#c8102e" opacity="0.75"/>
<rect x="196.85" y="183.00" width="0.90" height="11.60" fill="#c8102e" opacity="0.9"/>
<rect x="198.00" y="183.00" width="0.90" height="11.60" fill="#c8102e" opacity="1.0"/>
<rect x="203.85" y="183.00" width="0.90" height="11.60" fill="#c8102e" opacity="0.9"/>
<rect x="205.00" y="183.00" width="0.90" height="11.60" fill="#c8102e" opacity="0.75"/>
<rect x="207.05" y="183.00" width="0.90" height="11.60" fill="#c8102e" opacity="0.75"/>
<rect x="210.95" y="183.00" width="0.90" height="11.60" fill="#c8102e" opacity="0.6"/>
<rect x="212.10" y="183.00" width="0.90" height="11.60" fill="#c8102e" opacity="0.6"/>
<rect x="38.35" y="197.50" width="0.90" height="11.60" fill="#1f5aa6" opacity="0.6"/>
<rect x="39.50" y="197.50" width="0.90" height="11.60" fill="#1f5aa6" opacity="0.45"/>
<rect x="40.65" y="197.50" width="0.90" height="11.60" fill="#1f5aa6" opacity="1.0"/>
<rect x="41.80" y="197.50" width="0.90" height="11.60" fill="#1f5aa6" opacity="0.75"/>
<rect x="44.15" y="197.50" width="0.90" height="11.60" fill="#1f5aa6" opacity="1.0"/>
<rect x="49.30" y="197.50" width="0.90" height="11.60" fill="#1f5aa6" opacity="0.9"/>
<rect x="53.55" y="197.50" width="0.90" height="11.60" fill="#1f5aa6" opacity="0.75"/>
<rect x="57.45" y="197.50" width="0.90" height="11.60" fill="#1f5aa6" opacity="0.9"/>
<rect x="62.85" y="197.50" width="0.90" height="11.60" fill="#1f5aa6" opacity="0.75"/>
<rect x="80.85" y="197.50" width="0.90" height="11.60" fill="#1f5aa6" opacity="1.0"/>
<rect x="99.05" y="197.50" width="0.90" height="11.60" fill="#1f5aa6" opacity="0.45"/>
<rect x="106.85" y="197.50" width="0.90" height="11.60" fill="#1f5aa6" opacity="0.45"/>
<rect x="109.95" y="197.50" width="0.90" height="11.60" fill="#1f5aa6" opacity="1.0"/>
<rect x="111.10" y="197.50" width="0.90" height="11.60" fill="#1f5aa6" opacity="0.9"/>
<rect x="113.05" y="197.50" width="0.90" height="11.60" fill="#1f5aa6" opacity="0.6"/>
<rect x="116.95" y="197.50" width="0.90" height="11.60" fill="#1f5aa6" opacity="0.75"/>
<rect x="127.15" y="197.50" width="0.90" height="11.60" fill="#1f5aa6" opacity="0.6"/>
<rect x="133.35" y="197.50" width="0.90" height="11.60" fill="#1f5aa6" opacity="0.9"/>
<rect x="139.55" y="197.50" width="0.90" height="11.60" fill="#1f5aa6" opacity="0.9"/>
<rect x="140.70" y="197.50" width="0.90" height="11.60" fill="#1f5aa6" opacity="0.45"/>
<rect x="142.75" y="197.50" width="0.90" height="11.60" fill="#1f5aa6" opacity="0.45"/>
<rect x="145.85" y="197.50" width="0.90" height="11.60" fill="#1f5aa6" opacity="1.0"/>
<rect x="147.00" y="197.50" width="0.90" height="11.60" fill="#1f5aa6" opacity="1.0"/>
<rect x="149.05" y="197.50" width="0.90" height="11.60" fill="#1f5aa6" opacity="0.75"/>
<rect x="167.95" y="197.50" width="0.90" height="11.60" fill="#1f5aa6" opacity="0.75"/>
<rect x="169.10" y="197.50" width="0.90" height="11.60" fill="#1f5aa6" opacity="0.75"/>
<rect x="170.25" y="197.50" width="0.90" height="11.60" fill="#1f5aa6" opacity="1.0"/>
<rect x="182.05" y="197.50" width="0.90" height="11.60" fill="#1f5aa6" opacity="0.9"/>
<rect x="183.20" y="197.50" width="0.90" height="11.60" fill="#1f5aa6" opacity="1.0"/>
<rect x="184.35" y="197.50" width="0.90" height="11.60" fill="#1f5aa6" opacity="0.9"/>
<rect x="186.55" y="197.50" width="0.90" height="11.60" fill="#1f5aa6" opacity="0.45"/>
<rect x="187.70" y="197.50" width="0.90" height="11.60" fill="#1f5aa6" opacity="0.45"/>
<rect x="189.85" y="197.50" width="0.90" height="11.60" fill="#1f5aa6" opacity="0.75"/>
<rect x="193.75" y="197.50" width="0.90" height="11.60" fill="#1f5aa6" opacity="0.9"/>
<rect x="202.35" y="197.50" width="0.90" height="11.60" fill="#1f5aa6" opacity="0.45"/>
<rect x="203.50" y="197.50" width="0.90" height="11.60" fill="#1f5aa6" opacity="0.45"/>
<rect x="205.45" y="197.50" width="0.90" height="11.60" fill="#1f5aa6" opacity="0.75"/>
<rect x="209.35" y="197.50" width="0.90" height="11.60" fill="#1f5aa6" opacity="1.0"/>
<rect x="38.35" y="212.00" width="0.90" height="11.60" fill="#f7941d" opacity="0.9"/>
<rect x="41.55" y="212.00" width="0.90" height="11.60" fill="#f7941d" opacity="0.75"/>
<rect x="42.70" y="212.00" width="0.90" height="11.60" fill="#f7941d" opacity="0.9"/>
<rect x="46.85" y="212.00" width="0.90" height="11.60" fill="#f7941d" opacity="0.75"/>
<rect x="54.35" y="212.00" width="0.90" height="11.60" fill="#f7941d" opacity="0.45"/>
<rect x="55.50" y="212.00" width="0.90" height="11.60" fill="#f7941d" opacity="0.9"/>
<rect x="56.65" y="212.00" width="0.90" height="11.60" fill="#f7941d" opacity="0.75"/>
<rect x="60.55" y="212.00" width="0.90" height="11.60" fill="#f7941d" opacity="0.6"/>
<rect x="63.55" y="212.00" width="0.90" height="11.60" fill="#f7941d" opacity="1.0"/>
<rect x="64.70" y="212.00" width="0.90" height="11.60" fill="#f7941d" opacity="0.45"/>
<rect x="66.05" y="212.00" width="0.90" height="11.60" fill="#f7941d" opacity="0.9"/>
<rect x="68.55" y="212.00" width="0.90" height="11.60" fill="#f7941d" opacity="0.45"/>
<rect x="69.70" y="212.00" width="0.90" height="11.60" fill="#f7941d" opacity="0.6"/>
<rect x="70.85" y="212.00" width="0.90" height="11.60" fill="#f7941d" opacity="0.75"/>
<rect x="73.85" y="212.00" width="0.90" height="11.60" fill="#f7941d" opacity="0.6"/>
<rect x="78.95" y="212.00" width="0.90" height="11.60" fill="#f7941d" opacity="0.6"/>
<rect x="83.25" y="212.00" width="0.90" height="11.60" fill="#f7941d" opacity="0.9"/>
<rect x="85.25" y="212.00" width="0.90" height="11.60" fill="#f7941d" opacity="0.9"/>
<rect x="92.55" y="212.00" width="0.90" height="11.60" fill="#f7941d" opacity="0.9"/>
<rect x="93.70" y="212.00" width="0.90" height="11.60" fill="#f7941d" opacity="0.45"/>
<rect x="94.85" y="212.00" width="0.90" height="11.60" fill="#f7941d" opacity="0.6"/>
<rect x="98.25" y="212.00" width="0.90" height="11.60" fill="#f7941d" opacity="0.9"/>
<rect x="99.40" y="212.00" width="0.90" height="11.60" fill="#f7941d" opacity="0.9"/>
<rect x="101.55" y="212.00" width="0.90" height="11.60" fill="#f7941d" opacity="1.0"/>
<rect x="103.75" y="212.00" width="0.90" height="11.60" fill="#f7941d" opacity="0.75"/>
<rect x="104.90" y="212.00" width="0.90" height="11.60" fill="#f7941d" opacity="0.6"/>
<rect x="113.05" y="212.00" width="0.90" height="11.60" fill="#f7941d" opacity="0.9"/>
<rect x="117.75" y="212.00" width="0.90" height="11.60" fill="#f7941d" opacity="1.0"/>
<rect x="126.85" y="212.00" width="0.90" height="11.60" fill="#f7941d" opacity="0.75"/>
<rect x="128.00" y="212.00" width="0.90" height="11.60" fill="#f7941d" opacity="0.9"/>
<rect x="130.25" y="212.00" width="0.90" height="11.60" fill="#f7941d" opacity="0.75"/>
<rect x="132.55" y="212.00" width="0.90" height="11.60" fill="#f7941d" opacity="0.9"/>
<rect x="133.70" y="212.00" width="0.90" height="11.60" fill="#f7941d" opacity="0.6"/>
<rect x="134.85" y="212.00" width="0.90" height="11.60" fill="#f7941d" opacity="0.6"/>
<rect x="136.00" y="212.00" width="0.90" height="11.60" fill="#f7941d" opacity="0.45"/>
<rect x="137.15" y="212.00" width="0.90" height="11.60" fill="#f7941d" opacity="0.6"/>
<rect x="138.30" y="212.00" width="0.90" height="11.60" fill="#f7941d" opacity="0.6"/>
<rect x="139.45" y="212.00" width="0.90" height="11.60" fill="#f7941d" opacity="0.6"/>
<rect x="140.60" y="212.00" width="0.90" height="11.60" fill="#f7941d" opacity="0.6"/>
<rect x="141.75" y="212.00" width="0.90" height="11.60" fill="#f7941d" opacity="0.45"/>
<rect x="146.55" y="212.00" width="0.90" height="11.60" fill="#f7941d" opacity="0.9"/>
<rect x="147.70" y="212.00" width="0.90" height="11.60" fill="#f7941d" opacity="1.0"/>
<rect x="153.85" y="212.00" width="0.90" height="11.60" fill="#f7941d" opacity="0.6"/>
<rect x="155.00" y="212.00" width="0.90" height="11.60" fill="#f7941d" opacity="0.75"/>
<rect x="156.15" y="212.00" width="0.90" height="11.60" fill="#f7941d" opacity="0.75"/>
<rect x="157.30" y="212.00" width="0.90" height="11.60" fill="#f7941d" opacity="0.45"/>
<rect x="158.45" y="212.00" width="0.90" height="11.60" fill="#f7941d" opacity="0.6"/>
<rect x="160.15" y="212.00" width="0.90" height="11.60" fill="#f7941d" opacity="0.9"/>
<rect x="161.30" y="212.00" width="0.90" height="11.60" fill="#f7941d" opacity="1.0"/>
<rect x="164.85" y="212.00" width="0.90" height="11.60" fill="#f7941d" opacity="0.75"/>
<rect x="166.00" y="212.00" width="0.90" height="11.60" fill="#f7941d" opacity="1.0"/>
<rect x="167.95" y="212.00" width="0.90" height="11.60" fill="#f7941d" opacity="1.0"/>
<rect x="176.55" y="212.00" width="0.90" height="11.60" fill="#f7941d" opacity="0.75"/>
<rect x="177.70" y="212.00" width="0.90" height="11.60" fill="#f7941d" opacity="0.6"/>
<rect x="178.85" y="212.00" width="0.90" height="11.60" fill="#f7941d" opacity="1.0"/>
<rect x="180.00" y="212.00" width="0.90" height="11.60" fill="#f7941d" opacity="1.0"/>
<rect x="183.55" y="212.00" width="0.90" height="11.60" fill="#f7941d" opacity="0.45"/>
<rect x="187.55" y="212.00" width="0.90" height="11.60" fill="#f7941d" opacity="0.9"/>
<rect x="188.70" y="212.00" width="0.90" height="11.60" fill="#f7941d" opacity="1.0"/>
<rect x="190.55" y="212.00" width="0.90" height="11.60" fill="#f7941d" opacity="0.9"/>
<rect x="191.70" y="212.00" width="0.90" height="11.60" fill="#f7941d" opacity="0.9"/>
<rect x="195.25" y="212.00" width="0.90" height="11.60" fill="#f7941d" opacity="0.9"/>
<rect x="196.40" y="212.00" width="0.90" height="11.60" fill="#f7941d" opacity="0.9"/>
<rect x="197.55" y="212.00" width="0.90" height="11.60" fill="#f7941d" opacity="0.45"/>
<rect x="204.55" y="212.00" width="0.90" height="11.60" fill="#f7941d" opacity="0.9"/>
<rect x="205.70" y="212.00" width="0.90" height="11.60" fill="#f7941d" opacity="0.9"/>
<rect x="206.85" y="212.00" width="0.90" height="11.60" fill="#f7941d" opacity="0.45"/>
<rect x="208.00" y="212.00" width="0.90" height="11.60" fill="#f7941d" opacity="0.6"/>
<rect x="210.55" y="212.00" width="0.90" height="11.60" fill="#f7941d" opacity="0.45"/>
<rect x="211.70" y="212.00" width="0.90" height="11.60" fill="#f7941d" opacity="0.6"/>
<rect x="37.85" y="226.50" width="0.90" height="11.60" fill="#0a6e52" opacity="0.9"/>
<rect x="39.00" y="226.50" width="0.90" height="11.60" fill="#0a6e52" opacity="0.6"/>
<rect x="40.15" y="226.50" width="0.90" height="11.60" fill="#0a6e52" opacity="0.45"/>
<rect x="41.30" y="226.50" width="0.90" height="11.60" fill="#0a6e52" opacity="0.75"/>
<rect x="42.45" y="226.50" width="0.90" height="11.60" fill="#0a6e52" opacity="1.0"/>
<rect x="43.60" y="226.50" width="0.90" height="11.60" fill="#0a6e52" opacity="0.45"/>
<rect x="44.75" y="226.50" width="0.90" height="11.60" fill="#0a6e52" opacity="0.45"/>
<rect x="46.15" y="226.50" width="0.90" height="11.60" fill="#0a6e52" opacity="0.45"/>
<rect x="47.30" y="226.50" width="0.90" height="11.60" fill="#0a6e52" opacity="1.0"/>
<rect x="48.45" y="226.50" width="0.90" height="11.60" fill="#0a6e52" opacity="0.6"/>
<rect x="51.15" y="226.50" width="0.90" height="11.60" fill="#0a6e52" opacity="1.0"/>
<rect x="52.30" y="226.50" width="0.90" height="11.60" fill="#0a6e52" opacity="0.45"/>
<rect x="54.35" y="226.50" width="0.90" height="11.60" fill="#0a6e52" opacity="0.75"/>
<rect x="55.50" y="226.50" width="0.90" height="11.60" fill="#0a6e52" opacity="1.0"/>
<rect x="56.65" y="226.50" width="0.90" height="11.60" fill="#0a6e52" opacity="0.45"/>
<rect x="57.80" y="226.50" width="0.90" height="11.60" fill="#0a6e52" opacity="0.45"/>
<rect x="58.95" y="226.50" width="0.90" height="11.60" fill="#0a6e52" opacity="0.6"/>
<rect x="60.10" y="226.50" width="0.90" height="11.60" fill="#0a6e52" opacity="1.0"/>
<rect x="64.55" y="226.50" width="0.90" height="11.60" fill="#0a6e52" opacity="0.9"/>
<rect x="73.85" y="226.50" width="0.90" height="11.60" fill="#0a6e52" opacity="0.6"/>
<rect x="80.05" y="226.50" width="0.90" height="11.60" fill="#0a6e52" opacity="0.75"/>
<rect x="81.20" y="226.50" width="0.90" height="11.60" fill="#0a6e52" opacity="0.75"/>
<rect x="83.95" y="226.50" width="0.90" height="11.60" fill="#0a6e52" opacity="1.0"/>
<rect x="85.10" y="226.50" width="0.90" height="11.60" fill="#0a6e52" opacity="0.75"/>
<rect x="86.25" y="226.50" width="0.90" height="11.60" fill="#0a6e52" opacity="0.9"/>
<rect x="89.55" y="226.50" width="0.90" height="11.60" fill="#0a6e52" opacity="0.45"/>
<rect x="93.35" y="226.50" width="0.90" height="11.60" fill="#0a6e52" opacity="0.45"/>
<rect x="94.50" y="226.50" width="0.90" height="11.60" fill="#0a6e52" opacity="0.9"/>
<rect x="95.65" y="226.50" width="0.90" height="11.60" fill="#0a6e52" opacity="0.9"/>
<rect x="98.25" y="226.50" width="0.90" height="11.60" fill="#0a6e52" opacity="0.9"/>
<rect x="99.40" y="226.50" width="0.90" height="11.60" fill="#0a6e52" opacity="0.9"/>
<rect x="100.55" y="226.50" width="0.90" height="11.60" fill="#0a6e52" opacity="0.75"/>
<rect x="102.15" y="226.50" width="0.90" height="11.60" fill="#0a6e52" opacity="0.45"/>
<rect x="103.30" y="226.50" width="0.90" height="11.60" fill="#0a6e52" opacity="0.6"/>
<rect x="104.45" y="226.50" width="0.90" height="11.60" fill="#0a6e52" opacity="0.45"/>
<rect x="107.55" y="226.50" width="0.90" height="11.60" fill="#0a6e52" opacity="0.75"/>
<rect x="109.95" y="226.50" width="0.90" height="11.60" fill="#0a6e52" opacity="0.75"/>
<rect x="114.55" y="226.50" width="0.90" height="11.60" fill="#0a6e52" opacity="0.9"/>
<rect x="115.70" y="226.50" width="0.90" height="11.60" fill="#0a6e52" opacity="0.6"/>
<rect x="116.85" y="226.50" width="0.90" height="11.60" fill="#0a6e52" opacity="1.0"/>
<rect x="119.35" y="226.50" width="0.90" height="11.60" fill="#0a6e52" opacity="0.45"/>
<rect x="120.50" y="226.50" width="0.90" height="11.60" fill="#0a6e52" opacity="0.6"/>
<rect x="121.65" y="226.50" width="0.90" height="11.60" fill="#0a6e52" opacity="1.0"/>
<rect x="124.75" y="226.50" width="0.90" height="11.60" fill="#0a6e52" opacity="0.75"/>
<rect x="125.90" y="226.50" width="0.90" height="11.60" fill="#0a6e52" opacity="0.6"/>
<rect x="127.05" y="226.50" width="0.90" height="11.60" fill="#0a6e52" opacity="1.0"/>
<rect x="128.20" y="226.50" width="0.90" height="11.60" fill="#0a6e52" opacity="0.45"/>
<rect x="129.35" y="226.50" width="0.90" height="11.60" fill="#0a6e52" opacity="1.0"/>
<rect x="134.95" y="226.50" width="0.90" height="11.60" fill="#0a6e52" opacity="0.75"/>
<rect x="140.45" y="226.50" width="0.90" height="11.60" fill="#0a6e52" opacity="0.45"/>
<rect x="141.60" y="226.50" width="0.90" height="11.60" fill="#0a6e52" opacity="0.75"/>
<rect x="145.15" y="226.50" width="0.90" height="11.60" fill="#0a6e52" opacity="1.0"/>
<rect x="146.30" y="226.50" width="0.90" height="11.60" fill="#0a6e52" opacity="0.75"/>
<rect x="149.05" y="226.50" width="0.90" height="11.60" fill="#0a6e52" opacity="0.6"/>
<rect x="150.20" y="226.50" width="0.90" height="11.60" fill="#0a6e52" opacity="0.75"/>
<rect x="151.35" y="226.50" width="0.90" height="11.60" fill="#0a6e52" opacity="0.6"/>
<rect x="152.50" y="226.50" width="0.90" height="11.60" fill="#0a6e52" opacity="1.0"/>
<rect x="155.55" y="226.50" width="0.90" height="11.60" fill="#0a6e52" opacity="1.0"/>
<rect x="156.70" y="226.50" width="0.90" height="11.60" fill="#0a6e52" opacity="1.0"/>
<rect x="158.55" y="226.50" width="0.90" height="11.60" fill="#0a6e52" opacity="0.75"/>
<rect x="159.70" y="226.50" width="0.90" height="11.60" fill="#0a6e52" opacity="0.6"/>
<rect x="160.85" y="226.50" width="0.90" height="11.60" fill="#0a6e52" opacity="1.0"/>
<rect x="161.55" y="226.50" width="0.90" height="11.60" fill="#0a6e52" opacity="0.6"/>
<rect x="162.70" y="226.50" width="0.90" height="11.60" fill="#0a6e52" opacity="0.6"/>
<rect x="163.85" y="226.50" width="0.90" height="11.60" fill="#0a6e52" opacity="0.9"/>
<rect x="165.00" y="226.50" width="0.90" height="11.60" fill="#0a6e52" opacity="0.6"/>
<rect x="166.15" y="226.50" width="0.90" height="11.60" fill="#0a6e52" opacity="0.6"/>
<rect x="167.30" y="226.50" width="0.90" height="11.60" fill="#0a6e52" opacity="1.0"/>
<rect x="168.45" y="226.50" width="0.90" height="11.60" fill="#0a6e52" opacity="0.9"/>
<rect x="171.05" y="226.50" width="0.90" height="11.60" fill="#0a6e52" opacity="0.75"/>
<rect x="172.20" y="226.50" width="0.90" height="11.60" fill="#0a6e52" opacity="0.45"/>
<rect x="174.95" y="226.50" width="0.90" height="11.60" fill="#0a6e52" opacity="0.45"/>
<rect x="178.85" y="226.50" width="0.90" height="11.60" fill="#0a6e52" opacity="0.75"/>
<rect x="180.00" y="226.50" width="0.90" height="11.60" fill="#0a6e52" opacity="0.9"/>
<rect x="181.15" y="226.50" width="0.90" height="11.60" fill="#0a6e52" opacity="0.75"/>
<rect x="184.35" y="226.50" width="0.90" height="11.60" fill="#0a6e52" opacity="0.6"/>
<rect x="185.50" y="226.50" width="0.90" height="11.60" fill="#0a6e52" opacity="1.0"/>
<rect x="186.65" y="226.50" width="0.90" height="11.60" fill="#0a6e52" opacity="0.75"/>
<rect x="187.80" y="226.50" width="0.90" height="11.60" fill="#0a6e52" opacity="0.9"/>
<rect x="193.75" y="226.50" width="0.90" height="11.60" fill="#0a6e52" opacity="0.75"/>
<rect x="194.90" y="226.50" width="0.90" height="11.60" fill="#0a6e52" opacity="0.75"/>
<rect x="196.05" y="226.50" width="0.90" height="11.60" fill="#0a6e52" opacity="0.45"/>
<rect x="198.45" y="226.50" width="0.90" height="11.60" fill="#0a6e52" opacity="0.6"/>
<rect x="199.60" y="226.50" width="0.90" height="11.60" fill="#0a6e52" opacity="0.45"/>
<rect x="201.55" y="226.50" width="0.90" height="11.60" fill="#0a6e52" opacity="0.6"/>
<rect x="202.70" y="226.50" width="0.90" height="11.60" fill="#0a6e52" opacity="0.9"/>
<rect x="203.85" y="226.50" width="0.90" height="11.60" fill="#0a6e52" opacity="0.6"/>
<rect x="205.00" y="226.50" width="0.90" height="11.60" fill="#0a6e52" opacity="0.75"/>
<rect x="206.15" y="226.50" width="0.90" height="11.60" fill="#0a6e52" opacity="0.6"/>
<rect x="207.30" y="226.50" width="0.90" height="11.60" fill="#0a6e52" opacity="0.9"/>
<rect x="208.45" y="226.50" width="0.90" height="11.60" fill="#0a6e52" opacity="1.0"/>
<rect x="209.60" y="226.50" width="0.90" height="11.60" fill="#0a6e52" opacity="1.0"/>
<rect x="210.75" y="226.50" width="0.90" height="11.60" fill="#0a6e52" opacity="0.45"/>
<rect x="37.85" y="241.00" width="0.90" height="11.60" fill="#39b54a" opacity="0.9"/>
<rect x="41.05" y="241.00" width="0.90" height="11.60" fill="#39b54a" opacity="0.75"/>
<rect x="47.25" y="241.00" width="0.90" height="11.60" fill="#39b54a" opacity="0.45"/>
<rect x="48.40" y="241.00" width="0.90" height="11.60" fill="#39b54a" opacity="0.45"/>
<rect x="49.55" y="241.00" width="0.90" height="11.60" fill="#39b54a" opacity="0.9"/>
<rect x="50.70" y="241.00" width="0.90" height="11.60" fill="#39b54a" opacity="0.6"/>
<rect x="51.85" y="241.00" width="0.90" height="11.60" fill="#39b54a" opacity="0.9"/>
<rect x="53.00" y="241.00" width="0.90" height="11.60" fill="#39b54a" opacity="0.6"/>
<rect x="54.15" y="241.00" width="0.90" height="11.60" fill="#39b54a" opacity="0.9"/>
<rect x="58.95" y="241.00" width="0.90" height="11.60" fill="#39b54a" opacity="0.75"/>
<rect x="60.10" y="241.00" width="0.90" height="11.60" fill="#39b54a" opacity="0.45"/>
<rect x="61.25" y="241.00" width="0.90" height="11.60" fill="#39b54a" opacity="0.9"/>
<rect x="62.85" y="241.00" width="0.90" height="11.60" fill="#39b54a" opacity="0.9"/>
<rect x="64.00" y="241.00" width="0.90" height="11.60" fill="#39b54a" opacity="0.9"/>
<rect x="65.15" y="241.00" width="0.90" height="11.60" fill="#39b54a" opacity="0.45"/>
<rect x="67.55" y="241.00" width="0.90" height="11.60" fill="#39b54a" opacity="0.6"/>
<rect x="68.70" y="241.00" width="0.90" height="11.60" fill="#39b54a" opacity="0.6"/>
<rect x="73.05" y="241.00" width="0.90" height="11.60" fill="#39b54a" opacity="0.6"/>
<rect x="74.20" y="241.00" width="0.90" height="11.60" fill="#39b54a" opacity="0.45"/>
<rect x="75.35" y="241.00" width="0.90" height="11.60" fill="#39b54a" opacity="0.6"/>
<rect x="76.50" y="241.00" width="0.90" height="11.60" fill="#39b54a" opacity="1.0"/>
<rect x="77.65" y="241.00" width="0.90" height="11.60" fill="#39b54a" opacity="0.9"/>
<rect x="78.80" y="241.00" width="0.90" height="11.60" fill="#39b54a" opacity="0.6"/>
<rect x="79.95" y="241.00" width="0.90" height="11.60" fill="#39b54a" opacity="1.0"/>
<rect x="83.25" y="241.00" width="0.90" height="11.60" fill="#39b54a" opacity="1.0"/>
<rect x="84.40" y="241.00" width="0.90" height="11.60" fill="#39b54a" opacity="0.9"/>
<rect x="89.55" y="241.00" width="0.90" height="11.60" fill="#39b54a" opacity="0.75"/>
<rect x="90.70" y="241.00" width="0.90" height="11.60" fill="#39b54a" opacity="0.6"/>
<rect x="91.85" y="241.00" width="0.90" height="11.60" fill="#39b54a" opacity="1.0"/>
<rect x="93.00" y="241.00" width="0.90" height="11.60" fill="#39b54a" opacity="1.0"/>
<rect x="94.15" y="241.00" width="0.90" height="11.60" fill="#39b54a" opacity="0.6"/>
<rect x="95.30" y="241.00" width="0.90" height="11.60" fill="#39b54a" opacity="0.45"/>
<rect x="96.45" y="241.00" width="0.90" height="11.60" fill="#39b54a" opacity="0.45"/>
<rect x="97.60" y="241.00" width="0.90" height="11.60" fill="#39b54a" opacity="0.45"/>
<rect x="99.75" y="241.00" width="0.90" height="11.60" fill="#39b54a" opacity="1.0"/>
<rect x="100.90" y="241.00" width="0.90" height="11.60" fill="#39b54a" opacity="0.6"/>
<rect x="102.05" y="241.00" width="0.90" height="11.60" fill="#39b54a" opacity="0.9"/>
<rect x="104.55" y="241.00" width="0.90" height="11.60" fill="#39b54a" opacity="0.6"/>
<rect x="105.70" y="241.00" width="0.90" height="11.60" fill="#39b54a" opacity="0.6"/>
<rect x="106.85" y="241.00" width="0.90" height="11.60" fill="#39b54a" opacity="0.45"/>
<rect x="108.00" y="241.00" width="0.90" height="11.60" fill="#39b54a" opacity="0.75"/>
<rect x="109.15" y="241.00" width="0.90" height="11.60" fill="#39b54a" opacity="0.6"/>
<rect x="110.75" y="241.00" width="0.90" height="11.60" fill="#39b54a" opacity="0.75"/>
<rect x="111.90" y="241.00" width="0.90" height="11.60" fill="#39b54a" opacity="1.0"/>
<rect x="113.05" y="241.00" width="0.90" height="11.60" fill="#39b54a" opacity="0.6"/>
<rect x="115.45" y="241.00" width="0.90" height="11.60" fill="#39b54a" opacity="1.0"/>
<rect x="116.60" y="241.00" width="0.90" height="11.60" fill="#39b54a" opacity="0.75"/>
<rect x="117.75" y="241.00" width="0.90" height="11.60" fill="#39b54a" opacity="0.75"/>
<rect x="123.25" y="241.00" width="0.90" height="11.60" fill="#39b54a" opacity="1.0"/>
<rect x="124.40" y="241.00" width="0.90" height="11.60" fill="#39b54a" opacity="0.9"/>
<rect x="128.75" y="241.00" width="0.90" height="11.60" fill="#39b54a" opacity="0.6"/>
<rect x="129.90" y="241.00" width="0.90" height="11.60" fill="#39b54a" opacity="0.45"/>
<rect x="131.05" y="241.00" width="0.90" height="11.60" fill="#39b54a" opacity="0.75"/>
<rect x="133.35" y="241.00" width="0.90" height="11.60" fill="#39b54a" opacity="0.9"/>
<rect x="134.50" y="241.00" width="0.90" height="11.60" fill="#39b54a" opacity="1.0"/>
<rect x="136.55" y="241.00" width="0.90" height="11.60" fill="#39b54a" opacity="1.0"/>
<rect x="137.70" y="241.00" width="0.90" height="11.60" fill="#39b54a" opacity="0.9"/>
<rect x="138.85" y="241.00" width="0.90" height="11.60" fill="#39b54a" opacity="1.0"/>
<rect x="140.55" y="241.00" width="0.90" height="11.60" fill="#39b54a" opacity="0.6"/>
<rect x="141.70" y="241.00" width="0.90" height="11.60" fill="#39b54a" opacity="1.0"/>
<rect x="142.85" y="241.00" width="0.90" height="11.60" fill="#39b54a" opacity="0.6"/>
<rect x="147.55" y="241.00" width="0.90" height="11.60" fill="#39b54a" opacity="1.0"/>
<rect x="148.70" y="241.00" width="0.90" height="11.60" fill="#39b54a" opacity="1.0"/>
<rect x="149.85" y="241.00" width="0.90" height="11.60" fill="#39b54a" opacity="0.45"/>
<rect x="151.55" y="241.00" width="0.90" height="11.60" fill="#39b54a" opacity="0.9"/>
<rect x="152.70" y="241.00" width="0.90" height="11.60" fill="#39b54a" opacity="0.6"/>
<rect x="153.85" y="241.00" width="0.90" height="11.60" fill="#39b54a" opacity="1.0"/>
<rect x="155.00" y="241.00" width="0.90" height="11.60" fill="#39b54a" opacity="0.45"/>
<rect x="156.15" y="241.00" width="0.90" height="11.60" fill="#39b54a" opacity="0.6"/>
<rect x="157.30" y="241.00" width="0.90" height="11.60" fill="#39b54a" opacity="0.6"/>
<rect x="158.45" y="241.00" width="0.90" height="11.60" fill="#39b54a" opacity="0.6"/>
<rect x="159.60" y="241.00" width="0.90" height="11.60" fill="#39b54a" opacity="0.9"/>
<rect x="160.75" y="241.00" width="0.90" height="11.60" fill="#39b54a" opacity="1.0"/>
<rect x="161.75" y="241.00" width="0.90" height="11.60" fill="#39b54a" opacity="0.45"/>
<rect x="162.90" y="241.00" width="0.90" height="11.60" fill="#39b54a" opacity="1.0"/>
<rect x="164.05" y="241.00" width="0.90" height="11.60" fill="#39b54a" opacity="0.45"/>
<rect x="166.35" y="241.00" width="0.90" height="11.60" fill="#39b54a" opacity="0.75"/>
<rect x="167.50" y="241.00" width="0.90" height="11.60" fill="#39b54a" opacity="1.0"/>
<rect x="168.65" y="241.00" width="0.90" height="11.60" fill="#39b54a" opacity="1.0"/>
<rect x="169.80" y="241.00" width="0.90" height="11.60" fill="#39b54a" opacity="1.0"/>
<rect x="170.95" y="241.00" width="0.90" height="11.60" fill="#39b54a" opacity="0.9"/>
<rect x="173.45" y="241.00" width="0.90" height="11.60" fill="#39b54a" opacity="0.45"/>
<rect x="179.55" y="241.00" width="0.90" height="11.60" fill="#39b54a" opacity="1.0"/>
<rect x="180.70" y="241.00" width="0.90" height="11.60" fill="#39b54a" opacity="0.45"/>
<rect x="181.85" y="241.00" width="0.90" height="11.60" fill="#39b54a" opacity="0.6"/>
<rect x="183.00" y="241.00" width="0.90" height="11.60" fill="#39b54a" opacity="0.6"/>
<rect x="184.15" y="241.00" width="0.90" height="11.60" fill="#39b54a" opacity="0.75"/>
<rect x="188.25" y="241.00" width="0.90" height="11.60" fill="#39b54a" opacity="0.45"/>
<rect x="191.35" y="241.00" width="0.90" height="11.60" fill="#39b54a" opacity="0.45"/>
<rect x="195.25" y="241.00" width="0.90" height="11.60" fill="#39b54a" opacity="1.0"/>
<rect x="196.40" y="241.00" width="0.90" height="11.60" fill="#39b54a" opacity="0.9"/>
<rect x="198.45" y="241.00" width="0.90" height="11.60" fill="#39b54a" opacity="1.0"/>
<rect x="199.60" y="241.00" width="0.90" height="11.60" fill="#39b54a" opacity="0.45"/>
<rect x="200.75" y="241.00" width="0.90" height="11.60" fill="#39b54a" opacity="0.45"/>
<rect x="201.90" y="241.00" width="0.90" height="11.60" fill="#39b54a" opacity="0.9"/>
<rect x="207.05" y="241.00" width="0.90" height="11.60" fill="#39b54a" opacity="0.75"/>
<rect x="208.20" y="241.00" width="0.90" height="11.60" fill="#39b54a" opacity="1.0"/>
<rect x="210.15" y="241.00" width="0.90" height="11.60" fill="#39b54a" opacity="1.0"/>
<rect x="211.30" y="241.00" width="0.90" height="11.60" fill="#39b54a" opacity="1.0"/>
<rect x="37.85" y="255.50" width="0.90" height="11.60" fill="#5a2d8c" opacity="1.0"/>
<rect x="39.00" y="255.50" width="0.90" height="11.60" fill="#5a2d8c" opacity="0.6"/>
<rect x="40.15" y="255.50" width="0.90" height="11.60" fill="#5a2d8c" opacity="0.75"/>
<rect x="41.30" y="255.50" width="0.90" height="11.60" fill="#5a2d8c" opacity="0.9"/>
<rect x="42.45" y="255.50" width="0.90" height="11.60" fill="#5a2d8c" opacity="1.0"/>
<rect x="43.60" y="255.50" width="0.90" height="11.60" fill="#5a2d8c" opacity="1.0"/>
<rect x="44.75" y="255.50" width="0.90" height="11.60" fill="#5a2d8c" opacity="0.9"/>
<rect x="46.55" y="255.50" width="0.90" height="11.60" fill="#5a2d8c" opacity="1.0"/>
<rect x="47.70" y="255.50" width="0.90" height="11.60" fill="#5a2d8c" opacity="0.6"/>
<rect x="48.85" y="255.50" width="0.90" height="11.60" fill="#5a2d8c" opacity="1.0"/>
<rect x="51.15" y="255.50" width="0.90" height="11.60" fill="#5a2d8c" opacity="0.75"/>
<rect x="52.30" y="255.50" width="0.90" height="11.60" fill="#5a2d8c" opacity="1.0"/>
<rect x="53.45" y="255.50" width="0.90" height="11.60" fill="#5a2d8c" opacity="0.6"/>
<rect x="54.60" y="255.50" width="0.90" height="11.60" fill="#5a2d8c" opacity="0.9"/>
<rect x="55.75" y="255.50" width="0.90" height="11.60" fill="#5a2d8c" opacity="0.6"/>
<rect x="58.65" y="255.50" width="0.90" height="11.60" fill="#5a2d8c" opacity="0.9"/>
<rect x="59.80" y="255.50" width="0.90" height="11.60" fill="#5a2d8c" opacity="0.45"/>
<rect x="62.45" y="255.50" width="0.90" height="11.60" fill="#5a2d8c" opacity="0.9"/>
<rect x="63.60" y="255.50" width="0.90" height="11.60" fill="#5a2d8c" opacity="0.9"/>
<rect x="67.55" y="255.50" width="0.90" height="11.60" fill="#5a2d8c" opacity="0.75"/>
<rect x="71.55" y="255.50" width="0.90" height="11.60" fill="#5a2d8c" opacity="0.45"/>
<rect x="72.70" y="255.50" width="0.90" height="11.60" fill="#5a2d8c" opacity="0.6"/>
<rect x="74.35" y="255.50" width="0.90" height="11.60" fill="#5a2d8c" opacity="0.9"/>
<rect x="75.50" y="255.50" width="0.90" height="11.60" fill="#5a2d8c" opacity="0.45"/>
<rect x="76.95" y="255.50" width="0.90" height="11.60" fill="#5a2d8c" opacity="0.6"/>
<rect x="78.10" y="255.50" width="0.90" height="11.60" fill="#5a2d8c" opacity="0.75"/>
<rect x="79.25" y="255.50" width="0.90" height="11.60" fill="#5a2d8c" opacity="0.45"/>
<rect x="83.25" y="255.50" width="0.90" height="11.60" fill="#5a2d8c" opacity="0.6"/>
<rect x="84.40" y="255.50" width="0.90" height="11.60" fill="#5a2d8c" opacity="0.75"/>
<rect x="85.55" y="255.50" width="0.90" height="11.60" fill="#5a2d8c" opacity="0.6"/>
<rect x="88.55" y="255.50" width="0.90" height="11.60" fill="#5a2d8c" opacity="0.75"/>
<rect x="89.70" y="255.50" width="0.90" height="11.60" fill="#5a2d8c" opacity="0.6"/>
<rect x="90.85" y="255.50" width="0.90" height="11.60" fill="#5a2d8c" opacity="0.9"/>
<rect x="92.00" y="255.50" width="0.90" height="11.60" fill="#5a2d8c" opacity="0.6"/>
<rect x="93.15" y="255.50" width="0.90" height="11.60" fill="#5a2d8c" opacity="0.45"/>
<rect x="94.30" y="255.50" width="0.90" height="11.60" fill="#5a2d8c" opacity="0.9"/>
<rect x="99.05" y="255.50" width="0.90" height="11.60" fill="#5a2d8c" opacity="0.9"/>
<rect x="100.20" y="255.50" width="0.90" height="11.60" fill="#5a2d8c" opacity="0.6"/>
<rect x="103.75" y="255.50" width="0.90" height="11.60" fill="#5a2d8c" opacity="0.6"/>
<rect x="104.90" y="255.50" width="0.90" height="11.60" fill="#5a2d8c" opacity="0.6"/>
<rect x="106.05" y="255.50" width="0.90" height="11.60" fill="#5a2d8c" opacity="0.9"/>
<rect x="107.20" y="255.50" width="0.90" height="11.60" fill="#5a2d8c" opacity="1.0"/>
<rect x="108.35" y="255.50" width="0.90" height="11.60" fill="#5a2d8c" opacity="0.9"/>
<rect x="109.15" y="255.50" width="0.90" height="11.60" fill="#5a2d8c" opacity="0.75"/>
<rect x="110.30" y="255.50" width="0.90" height="11.60" fill="#5a2d8c" opacity="0.9"/>
<rect x="111.45" y="255.50" width="0.90" height="11.60" fill="#5a2d8c" opacity="0.6"/>
<rect x="113.85" y="255.50" width="0.90" height="11.60" fill="#5a2d8c" opacity="0.75"/>
<rect x="115.00" y="255.50" width="0.90" height="11.60" fill="#5a2d8c" opacity="0.75"/>
<rect x="118.55" y="255.50" width="0.90" height="11.60" fill="#5a2d8c" opacity="0.45"/>
<rect x="119.70" y="255.50" width="0.90" height="11.60" fill="#5a2d8c" opacity="0.75"/>
<rect x="120.85" y="255.50" width="0.90" height="11.60" fill="#5a2d8c" opacity="0.45"/>
<rect x="122.00" y="255.50" width="0.90" height="11.60" fill="#5a2d8c" opacity="0.75"/>
<rect x="124.05" y="255.50" width="0.90" height="11.60" fill="#5a2d8c" opacity="1.0"/>
<rect x="125.20" y="255.50" width="0.90" height="11.60" fill="#5a2d8c" opacity="0.9"/>
<rect x="126.35" y="255.50" width="0.90" height="11.60" fill="#5a2d8c" opacity="0.9"/>
<rect x="127.50" y="255.50" width="0.90" height="11.60" fill="#5a2d8c" opacity="0.45"/>
<rect x="128.65" y="255.50" width="0.90" height="11.60" fill="#5a2d8c" opacity="0.9"/>
<rect x="129.80" y="255.50" width="0.90" height="11.60" fill="#5a2d8c" opacity="0.75"/>
<rect x="131.05" y="255.50" width="0.90" height="11.60" fill="#5a2d8c" opacity="1.0"/>
<rect x="132.20" y="255.50" width="0.90" height="11.60" fill="#5a2d8c" opacity="1.0"/>
<rect x="135.75" y="255.50" width="0.90" height="11.60" fill="#5a2d8c" opacity="0.75"/>
<rect x="136.90" y="255.50" width="0.90" height="11.60" fill="#5a2d8c" opacity="1.0"/>
<rect x="140.45" y="255.50" width="0.90" height="11.60" fill="#5a2d8c" opacity="0.45"/>
<rect x="141.60" y="255.50" width="0.90" height="11.60" fill="#5a2d8c" opacity="0.45"/>
<rect x="147.55" y="255.50" width="0.90" height="11.60" fill="#5a2d8c" opacity="0.6"/>
<rect x="148.70" y="255.50" width="0.90" height="11.60" fill="#5a2d8c" opacity="0.45"/>
<rect x="149.85" y="255.50" width="0.90" height="11.60" fill="#5a2d8c" opacity="0.45"/>
<rect x="151.00" y="255.50" width="0.90" height="11.60" fill="#5a2d8c" opacity="0.75"/>
<rect x="152.15" y="255.50" width="0.90" height="11.60" fill="#5a2d8c" opacity="0.75"/>
<rect x="153.30" y="255.50" width="0.90" height="11.60" fill="#5a2d8c" opacity="0.45"/>
<rect x="154.45" y="255.50" width="0.90" height="11.60" fill="#5a2d8c" opacity="0.6"/>
<rect x="155.60" y="255.50" width="0.90" height="11.60" fill="#5a2d8c" opacity="0.75"/>
<rect x="156.75" y="255.50" width="0.90" height="11.60" fill="#5a2d8c" opacity="0.6"/>
<rect x="157.90" y="255.50" width="0.90" height="11.60" fill="#5a2d8c" opacity="0.9"/>
<rect x="160.95" y="255.50" width="0.90" height="11.60" fill="#5a2d8c" opacity="0.75"/>
<rect x="162.10" y="255.50" width="0.90" height="11.60" fill="#5a2d8c" opacity="0.9"/>
<rect x="163.25" y="255.50" width="0.90" height="11.60" fill="#5a2d8c" opacity="0.6"/>
<rect x="166.35" y="255.50" width="0.90" height="11.60" fill="#5a2d8c" opacity="1.0"/>
<rect x="167.50" y="255.50" width="0.90" height="11.60" fill="#5a2d8c" opacity="1.0"/>
<rect x="168.65" y="255.50" width="0.90" height="11.60" fill="#5a2d8c" opacity="1.0"/>
<rect x="169.80" y="255.50" width="0.90" height="11.60" fill="#5a2d8c" opacity="0.9"/>
<rect x="173.45" y="255.50" width="0.90" height="11.60" fill="#5a2d8c" opacity="0.75"/>
<rect x="174.60" y="255.50" width="0.90" height="11.60" fill="#5a2d8c" opacity="0.45"/>
<rect x="176.55" y="255.50" width="0.90" height="11.60" fill="#5a2d8c" opacity="0.75"/>
<rect x="177.70" y="255.50" width="0.90" height="11.60" fill="#5a2d8c" opacity="0.45"/>
<rect x="180.45" y="255.50" width="0.90" height="11.60" fill="#5a2d8c" opacity="0.6"/>
<rect x="181.60" y="255.50" width="0.90" height="11.60" fill="#5a2d8c" opacity="0.9"/>
<rect x="185.95" y="255.50" width="0.90" height="11.60" fill="#5a2d8c" opacity="0.45"/>
<rect x="187.10" y="255.50" width="0.90" height="11.60" fill="#5a2d8c" opacity="0.75"/>
<rect x="188.25" y="255.50" width="0.90" height="11.60" fill="#5a2d8c" opacity="0.45"/>
<rect x="189.40" y="255.50" width="0.90" height="11.60" fill="#5a2d8c" opacity="0.45"/>
<rect x="190.55" y="255.50" width="0.90" height="11.60" fill="#5a2d8c" opacity="0.75"/>
<rect x="196.05" y="255.50" width="0.90" height="11.60" fill="#5a2d8c" opacity="0.45"/>
<rect x="197.20" y="255.50" width="0.90" height="11.60" fill="#5a2d8c" opacity="1.0"/>
<rect x="202.35" y="255.50" width="0.90" height="11.60" fill="#5a2d8c" opacity="0.6"/>
<rect x="203.50" y="255.50" width="0.90" height="11.60" fill="#5a2d8c" opacity="0.45"/>
<rect x="206.25" y="255.50" width="0.90" height="11.60" fill="#5a2d8c" opacity="0.75"/>
<rect x="207.40" y="255.50" width="0.90" height="11.60" fill="#5a2d8c" opacity="0.45"/>
<rect x="210.15" y="255.50" width="0.90" height="11.60" fill="#5a2d8c" opacity="0.9"/>
<rect x="211.30" y="255.50" width="0.90" height="11.60" fill="#5a2d8c" opacity="0.45"/>
<text x="0" y="0" font-size="8.30" text-anchor="middle" fill="#231f20" stroke="#231f20" stroke-width="0.2" font-weight="normal" transform="translate(306.6,67) rotate(-90) scale(0.88,1)">Apoptosis %</text>
<line x1="329.2" y1="28.8" x2="329.2" y2="115.9" stroke="#231f20" stroke-width="0.9" />
<line x1="326.5" y1="115.5" x2="329.2" y2="115.5" stroke="#231f20" stroke-width="0.9" />
<text x="0" y="0" font-size="8.62" text-anchor="end" fill="#231f20" stroke="#231f20" stroke-width="0.2" font-weight="normal"  transform="translate(324.6,118.5) scale(0.8929,1)">0</text>
<line x1="326.5" y1="94.125" x2="329.2" y2="94.125" stroke="#231f20" stroke-width="0.9" />
<text x="0" y="0" font-size="8.62" text-anchor="end" fill="#231f20" stroke="#231f20" stroke-width="0.2" font-weight="normal"  transform="translate(324.6,97.125) scale(0.8929,1)">25</text>
<line x1="326.5" y1="72.75" x2="329.2" y2="72.75" stroke="#231f20" stroke-width="0.9" />
<text x="0" y="0" font-size="8.62" text-anchor="end" fill="#231f20" stroke="#231f20" stroke-width="0.2" font-weight="normal"  transform="translate(324.6,75.75) scale(0.8929,1)">50</text>
<line x1="326.5" y1="51.375" x2="329.2" y2="51.375" stroke="#231f20" stroke-width="0.9" />
<text x="0" y="0" font-size="8.62" text-anchor="end" fill="#231f20" stroke="#231f20" stroke-width="0.2" font-weight="normal"  transform="translate(324.6,54.375) scale(0.8929,1)">75</text>
<line x1="326.5" y1="30.0" x2="329.2" y2="30.0" stroke="#231f20" stroke-width="0.9" />
<text x="0" y="0" font-size="8.62" text-anchor="end" fill="#231f20" stroke="#231f20" stroke-width="0.2" font-weight="normal"  transform="translate(324.6,33.0) scale(0.8929,1)">100</text>
<line x1="329.2" y1="115.5" x2="512.2" y2="115.5" stroke="#231f20" stroke-width="1.0" />
<rect x="333.40" y="18.00" width="10.00" height="5.60" fill="#c8102e" />
<text x="0" y="0" font-size="8.62" text-anchor="start" fill="#231f20" stroke="#231f20" stroke-width="0.2" font-weight="normal"  transform="translate(346.3,23.6) scale(0.8929,1)">Ctrl</text>
<rect x="333.40" y="30.00" width="10.00" height="5.60" fill="#19508c" />
<text x="0" y="0" font-size="8.62" text-anchor="start" fill="#231f20" stroke="#231f20" stroke-width="0.2" font-weight="normal"  transform="translate(346.3,35.6) scale(0.8929,1)">IFN-&#946;</text>
<rect x="333.40" y="41.50" width="10.00" height="5.60" fill="#3cb44b" />
<text x="0" y="0" font-size="8.62" text-anchor="start" fill="#231f20" stroke="#231f20" stroke-width="0.2" font-weight="normal"  transform="translate(346.3,47.1) scale(0.8929,1)">IFN-&#947;</text>
<line x1="338.3" y1="96.2" x2="338.3" y2="98.9" stroke="#c8102e" stroke-width="1.0" />
<line x1="336.2" y1="96.2" x2="340.40000000000003" y2="96.2" stroke="#c8102e" stroke-width="1.0" />
<rect x="334.55" y="99.15" width="7.60" height="16.35" fill="#c8102e" stroke="#b00c28" stroke-width="0.5"/>
<line x1="351" y1="95.2" x2="351" y2="98.5" stroke="#19508c" stroke-width="1.0" />
<line x1="348.9" y1="95.2" x2="353.1" y2="95.2" stroke="#19508c" stroke-width="1.0" />
<rect x="347.25" y="98.75" width="7.60" height="16.75" fill="#19508c" stroke="#123f70" stroke-width="0.5"/>
<line x1="363.7" y1="94.8" x2="363.7" y2="98.5" stroke="#3cb44b" stroke-width="1.0" />
<line x1="361.59999999999997" y1="94.8" x2="365.8" y2="94.8" stroke="#3cb44b" stroke-width="1.0" />
<rect x="359.95" y="98.75" width="7.60" height="16.75" fill="#3cb44b" stroke="#2fa03c" stroke-width="0.5"/>
<line x1="385" y1="64.6" x2="385" y2="68.4" stroke="#c8102e" stroke-width="1.0" />
<line x1="382.9" y1="64.6" x2="387.1" y2="64.6" stroke="#c8102e" stroke-width="1.0" />
<rect x="381.25" y="68.65" width="7.60" height="46.85" fill="#c8102e" stroke="#b00c28" stroke-width="0.5"/>
<line x1="397.5" y1="38.2" x2="397.5" y2="43.1" stroke="#19508c" stroke-width="1.0" />
<line x1="395.4" y1="38.2" x2="399.6" y2="38.2" stroke="#19508c" stroke-width="1.0" />
<rect x="393.75" y="43.35" width="7.60" height="72.15" fill="#19508c" stroke="#123f70" stroke-width="0.5"/>
<line x1="410" y1="53.8" x2="410" y2="57.2" stroke="#3cb44b" stroke-width="1.0" />
<line x1="407.9" y1="53.8" x2="412.1" y2="53.8" stroke="#3cb44b" stroke-width="1.0" />
<rect x="406.25" y="57.45" width="7.60" height="58.05" fill="#3cb44b" stroke="#2fa03c" stroke-width="0.5"/>
<line x1="431" y1="104.5" x2="431" y2="107.2" stroke="#c8102e" stroke-width="1.0" />
<line x1="428.9" y1="104.5" x2="433.1" y2="104.5" stroke="#c8102e" stroke-width="1.0" />
<rect x="427.25" y="107.45" width="7.60" height="8.05" fill="#c8102e" stroke="#b00c28" stroke-width="0.5"/>
<line x1="444" y1="104.2" x2="444" y2="105.8" stroke="#19508c" stroke-width="1.0" />
<line x1="441.9" y1="104.2" x2="446.1" y2="104.2" stroke="#19508c" stroke-width="1.0" />
<rect x="440.25" y="106.05" width="7.60" height="9.45" fill="#19508c" stroke="#123f70" stroke-width="0.5"/>
<line x1="456.4" y1="104.7" x2="456.4" y2="106.3" stroke="#3cb44b" stroke-width="1.0" />
<line x1="454.29999999999995" y1="104.7" x2="458.5" y2="104.7" stroke="#3cb44b" stroke-width="1.0" />
<rect x="452.65" y="106.55" width="7.60" height="8.95" fill="#3cb44b" stroke="#2fa03c" stroke-width="0.5"/>
<line x1="477.7" y1="93.4" x2="477.7" y2="95.9" stroke="#c8102e" stroke-width="1.0" />
<line x1="475.59999999999997" y1="93.4" x2="479.8" y2="93.4" stroke="#c8102e" stroke-width="1.0" />
<rect x="473.95" y="96.15" width="7.60" height="19.35" fill="#c8102e" stroke="#b00c28" stroke-width="0.5"/>
<line x1="490.3" y1="57.1" x2="490.3" y2="64.1" stroke="#19508c" stroke-width="1.0" />
<line x1="488.2" y1="57.1" x2="492.40000000000003" y2="57.1" stroke="#19508c" stroke-width="1.0" />
<rect x="486.55" y="64.35" width="7.60" height="51.15" fill="#19508c" stroke="#123f70" stroke-width="0.5"/>
<line x1="503.2" y1="85.1" x2="503.2" y2="88.9" stroke="#3cb44b" stroke-width="1.0" />
<line x1="501.09999999999997" y1="85.1" x2="505.3" y2="85.1" stroke="#3cb44b" stroke-width="1.0" />
<rect x="499.45" y="89.15" width="7.60" height="26.35" fill="#3cb44b" stroke="#2fa03c" stroke-width="0.5"/>
<line x1="351.2" y1="115.5" x2="351.2" y2="118.6" stroke="#231f20" stroke-width="0.8" />
<text x="0" y="0" font-size="8.96" text-anchor="middle" fill="#231f20" stroke="#231f20" stroke-width="0.2" font-weight="normal"  transform="translate(351.2,127.8) scale(0.8929,1)">DMSO</text>
<line x1="397.5" y1="115.5" x2="397.5" y2="118.6" stroke="#231f20" stroke-width="0.8" />
<text x="0" y="0" font-size="8.96" text-anchor="middle" fill="#231f20" stroke="#231f20" stroke-width="0.2" font-weight="normal"  transform="translate(397.5,127.8) scale(0.8929,1)">Cfz</text>
<line x1="443.5" y1="115.5" x2="443.5" y2="118.6" stroke="#231f20" stroke-width="0.8" />
<text x="0" y="0" font-size="8.96" text-anchor="middle" fill="#231f20" stroke="#231f20" stroke-width="0.2" font-weight="normal"  transform="translate(443.5,127.8) scale(0.8929,1)">DMSO</text>
<line x1="490.3" y1="115.5" x2="490.3" y2="118.6" stroke="#231f20" stroke-width="0.8" />
<text x="0" y="0" font-size="8.96" text-anchor="middle" fill="#231f20" stroke="#231f20" stroke-width="0.2" font-weight="normal"  transform="translate(490.3,127.8) scale(0.8929,1)">Cfz</text>
<line x1="334.3" y1="130.8" x2="418" y2="130.8" stroke="#231f20" stroke-width="1.0" />
<line x1="427.9" y1="130.8" x2="512.2" y2="130.8" stroke="#231f20" stroke-width="1.0" />
<text x="0" y="0" font-size="8.85" text-anchor="middle" fill="#231f20" stroke="#231f20" stroke-width="0.2" font-weight="normal"  transform="translate(376.4,140.8) scale(0.8929,1)">MM.1S</text>
<text x="0" y="0" font-size="8.85" text-anchor="middle" fill="#231f20" stroke="#231f20" stroke-width="0.2" font-weight="normal"  transform="translate(469,140.8) scale(0.8929,1)">ARP-1</text>
<line x1="380.2" y1="15.2" x2="410.4" y2="15.2" stroke="#333333" stroke-width="1.0" />
<line x1="382.7" y1="34.0" x2="398" y2="34.0" stroke="#333333" stroke-width="1.0" />
<line x1="396" y1="26.2" x2="411.7" y2="26.2" stroke="#333333" stroke-width="1.0" />
<line x1="475" y1="34.0" x2="505.4" y2="34.0" stroke="#333333" stroke-width="1.0" />
<line x1="476.4" y1="52.1" x2="491.2" y2="52.1" stroke="#333333" stroke-width="1.0" />
<line x1="490.6" y1="44.8" x2="505.4" y2="44.8" stroke="#333333" stroke-width="1.0" />
<circle cx="394.90" cy="11.20" r="1.1" fill="#1a1a1a"/>
<circle cx="389.90" cy="29.90" r="1.1" fill="#1a1a1a"/>
<circle cx="490.40" cy="29.80" r="1.1" fill="#1a1a1a"/>
<circle cx="481.65" cy="48.40" r="1.1" fill="#1a1a1a"/>
<circle cx="485.35" cy="48.40" r="1.1" fill="#1a1a1a"/>
<circle cx="495.95" cy="41.00" r="1.1" fill="#1a1a1a"/>
<circle cx="499.65" cy="41.00" r="1.1" fill="#1a1a1a"/>
<text x="0" y="0" font-size="8.29" text-anchor="middle" fill="#333333" stroke="#333333" stroke-width="0.2" font-weight="normal"  transform="translate(403.8,24.7) scale(0.8929,1)">n.s.</text>
<text x="0" y="0" font-size="8.30" text-anchor="middle" fill="#231f20" stroke="#231f20" stroke-width="0.2" font-weight="normal" transform="translate(307.8,202.4) rotate(-90) scale(0.92,1)">Combination index</text>
<line x1="330.2" y1="159.2" x2="330.2" y2="246.6" stroke="#231f20" stroke-width="0.9" />
<line x1="327.5" y1="246.2" x2="330.2" y2="246.2" stroke="#231f20" stroke-width="0.9" />
<text x="0" y="0" font-size="8.62" text-anchor="end" fill="#231f20" stroke="#231f20" stroke-width="0.2" font-weight="normal"  transform="translate(325.5,248.89999999999998) scale(0.8929,1)">0.0</text>
<line x1="327.5" y1="231.78" x2="330.2" y2="231.78" stroke="#231f20" stroke-width="0.9" />
<text x="0" y="0" font-size="8.62" text-anchor="end" fill="#231f20" stroke="#231f20" stroke-width="0.2" font-weight="normal"  transform="translate(325.5,234.48) scale(0.8929,1)">0.2</text>
<line x1="327.5" y1="217.35999999999999" x2="330.2" y2="217.35999999999999" stroke="#231f20" stroke-width="0.9" />
<text x="0" y="0" font-size="8.62" text-anchor="end" fill="#231f20" stroke="#231f20" stroke-width="0.2" font-weight="normal"  transform="translate(325.5,220.05999999999997) scale(0.8929,1)">0.4</text>
<line x1="327.5" y1="202.94" x2="330.2" y2="202.94" stroke="#231f20" stroke-width="0.9" />
<text x="0" y="0" font-size="8.62" text-anchor="end" fill="#231f20" stroke="#231f20" stroke-width="0.2" font-weight="normal"  transform="translate(325.5,205.64) scale(0.8929,1)">0.6</text>
<line x1="327.5" y1="188.51999999999998" x2="330.2" y2="188.51999999999998" stroke="#231f20" stroke-width="0.9" />
<text x="0" y="0" font-size="8.62" text-anchor="end" fill="#231f20" stroke="#231f20" stroke-width="0.2" font-weight="normal"  transform="translate(325.5,191.21999999999997) scale(0.8929,1)">0.8</text>
<line x1="327.5" y1="174.1" x2="330.2" y2="174.1" stroke="#231f20" stroke-width="0.9" />
<text x="0" y="0" font-size="8.62" text-anchor="end" fill="#231f20" stroke="#231f20" stroke-width="0.2" font-weight="normal"  transform="translate(325.5,176.79999999999998) scale(0.8929,1)">1.0</text>
<line x1="327.5" y1="159.68" x2="330.2" y2="159.68" stroke="#231f20" stroke-width="0.9" />
<text x="0" y="0" font-size="8.62" text-anchor="end" fill="#231f20" stroke="#231f20" stroke-width="0.2" font-weight="normal"  transform="translate(325.5,162.38) scale(0.8929,1)">1.2</text>
<line x1="330.2" y1="246.2" x2="455.4" y2="246.2" stroke="#231f20" stroke-width="0.9" />
<line x1="330.2" y1="174.5" x2="456.5" y2="174.5" stroke="#333" stroke-width="1.0" stroke-dasharray="1 1"/>
<line x1="345.79999999999995" y1="206.4" x2="345.79999999999995" y2="210" stroke="#c8102e" stroke-width="1.0" />
<line x1="342.99999999999994" y1="206.4" x2="348.59999999999997" y2="206.4" stroke="#c8102e" stroke-width="1.0" />
<rect x="338.15" y="210.25" width="15.30" height="35.95" fill="#c8102e" stroke="#b00c28" stroke-width="0.5"/>
<line x1="369.29999999999995" y1="183.4" x2="369.29999999999995" y2="186.8" stroke="#19508c" stroke-width="1.0" />
<line x1="366.49999999999994" y1="183.4" x2="372.09999999999997" y2="183.4" stroke="#19508c" stroke-width="1.0" />
<rect x="361.65" y="187.05" width="15.30" height="59.15" fill="#19508c" stroke="#123f70" stroke-width="0.5"/>
<line x1="416.0" y1="200.8" x2="416.0" y2="206.6" stroke="#c8102e" stroke-width="1.0" />
<line x1="413.2" y1="200.8" x2="418.8" y2="200.8" stroke="#c8102e" stroke-width="1.0" />
<rect x="408.35" y="206.85" width="15.30" height="39.35" fill="#c8102e" stroke="#b00c28" stroke-width="0.5"/>
<line x1="439.5" y1="168.3" x2="439.5" y2="172.2" stroke="#19508c" stroke-width="1.0" />
<line x1="436.7" y1="168.3" x2="442.3" y2="168.3" stroke="#19508c" stroke-width="1.0" />
<rect x="431.85" y="172.45" width="15.30" height="73.75" fill="#19508c" stroke="#123f70" stroke-width="0.5"/>
<text x="0" y="0" font-size="8.85" text-anchor="middle" fill="#231f20" stroke="#231f20" stroke-width="0.2" font-weight="normal"  transform="translate(345.6,256.2) scale(0.8929,1)">IFN-&#946;</text>
<text x="0" y="0" font-size="8.85" text-anchor="middle" fill="#231f20" stroke="#231f20" stroke-width="0.2" font-weight="normal"  transform="translate(369.3,256.2) scale(0.8929,1)">IFN-&#947;</text>
<text x="0" y="0" font-size="8.85" text-anchor="middle" fill="#231f20" stroke="#231f20" stroke-width="0.2" font-weight="normal"  transform="translate(416,256.2) scale(0.8929,1)">IFN-&#946;</text>
<text x="0" y="0" font-size="8.85" text-anchor="middle" fill="#231f20" stroke="#231f20" stroke-width="0.2" font-weight="normal"  transform="translate(439.4,256.2) scale(0.8929,1)">IFN-&#947;</text>
<line x1="335.2" y1="259.7" x2="381.5" y2="259.7" stroke="#231f20" stroke-width="0.9" />
<line x1="405" y1="259.7" x2="452" y2="259.7" stroke="#231f20" stroke-width="0.9" />
<text x="0" y="0" font-size="8.85" text-anchor="middle" fill="#231f20" stroke="#231f20" stroke-width="0.2" font-weight="normal"  transform="translate(358.4,268.8) scale(0.8929,1)">MM.1S</text>
<text x="0" y="0" font-size="8.85" text-anchor="middle" fill="#231f20" stroke="#231f20" stroke-width="0.2" font-weight="normal"  transform="translate(428.4,268.8) scale(0.8929,1)">ARP-1</text>
<line x1="339.7" y1="167.6" x2="370.4" y2="167.6" stroke="#333333" stroke-width="1.0" />
<line x1="409.7" y1="163.9" x2="440.4" y2="163.9" stroke="#333333" stroke-width="1.0" />
<circle cx="353.55" cy="163.30" r="1.1" fill="#1a1a1a"/>
<circle cx="357.25" cy="163.30" r="1.1" fill="#1a1a1a"/>
<circle cx="425.00" cy="160.10" r="1.1" fill="#1a1a1a"/>
<text x="0" y="0" font-size="8.51" text-anchor="end" fill="#231f20" stroke="#231f20" stroke-width="0.2" font-weight="normal"  transform="translate(48.2,301.89) scale(0.8929,1)">OAS1</text>
<rect x="49.90" y="293.90" width="18.77" height="10.48" fill="#0d63c0" />
<rect x="68.67" y="293.90" width="18.77" height="10.48" fill="#0c64c0" />
<rect x="87.44" y="293.90" width="18.77" height="10.48" fill="#0e66c0" />
<rect x="106.21" y="293.90" width="18.77" height="10.48" fill="#ff5c5c" />
<rect x="124.98" y="293.90" width="18.77" height="10.48" fill="#ff3a3a" />
<rect x="143.75" y="293.90" width="18.77" height="10.48" fill="#ff2424" />
<text x="0" y="0" font-size="8.51" text-anchor="end" fill="#231f20" stroke="#231f20" stroke-width="0.2" font-weight="normal"  transform="translate(48.2,312.37) scale(0.8929,1)">IRF1</text>
<rect x="49.90" y="304.38" width="18.77" height="10.48" fill="#2b7cc8" />
<rect x="68.67" y="304.38" width="18.77" height="10.48" fill="#2e80ca" />
<rect x="87.44" y="304.38" width="18.77" height="10.48" fill="#3584cb" />
<rect x="106.21" y="304.38" width="18.77" height="10.48" fill="#ff6c6c" />
<rect x="124.98" y="304.38" width="18.77" height="10.48" fill="#ff8080" />
<rect x="143.75" y="304.38" width="18.77" height="10.48" fill="#ff7878" />
<text x="0" y="0" font-size="8.51" text-anchor="end" fill="#231f20" stroke="#231f20" stroke-width="0.2" font-weight="normal"  transform="translate(48.2,322.84999999999997) scale(0.8929,1)">OAS2</text>
<rect x="49.90" y="314.86" width="18.77" height="10.48" fill="#4490d0" />
<rect x="68.67" y="314.86" width="18.77" height="10.48" fill="#4490d0" />
<rect x="87.44" y="314.86" width="18.77" height="10.48" fill="#4490d0" />
<rect x="106.21" y="314.86" width="18.77" height="10.48" fill="#ff6565" />
<rect x="124.98" y="314.86" width="18.77" height="10.48" fill="#ff8f8f" />
<rect x="143.75" y="314.86" width="18.77" height="10.48" fill="#ff8585" />
<text x="0" y="0" font-size="8.51" text-anchor="end" fill="#231f20" stroke="#231f20" stroke-width="0.2" font-weight="normal"  transform="translate(48.2,333.33) scale(0.8929,1)">OAS3</text>
<rect x="49.90" y="325.34" width="18.77" height="10.48" fill="#4a92d2" />
<rect x="68.67" y="325.34" width="18.77" height="10.48" fill="#1f73c5" />
<rect x="87.44" y="325.34" width="18.77" height="10.48" fill="#aecde9" />
<rect x="106.21" y="325.34" width="18.77" height="10.48" fill="#ff2e2e" />
<rect x="124.98" y="325.34" width="18.77" height="10.48" fill="#ffb0b3" />
<rect x="143.75" y="325.34" width="18.77" height="10.48" fill="#ffdde2" />
<text x="0" y="0" font-size="8.51" text-anchor="end" fill="#231f20" stroke="#231f20" stroke-width="0.2" font-weight="normal"  transform="translate(48.2,343.81) scale(0.8929,1)">SOCS1</text>
<rect x="49.90" y="335.82" width="18.77" height="10.48" fill="#5a9fd6" />
<rect x="68.67" y="335.82" width="18.77" height="10.48" fill="#8ab8e0" />
<rect x="87.44" y="335.82" width="18.77" height="10.48" fill="#8ab8e0" />
<rect x="106.21" y="335.82" width="18.77" height="10.48" fill="#ff7b7b" />
<rect x="124.98" y="335.82" width="18.77" height="10.48" fill="#ff8080" />
<rect x="143.75" y="335.82" width="18.77" height="10.48" fill="#ffd6dc" />
<text x="0" y="0" font-size="8.51" text-anchor="end" fill="#231f20" stroke="#231f20" stroke-width="0.2" font-weight="normal"  transform="translate(48.2,354.28999999999996) scale(0.8929,1)">IFITM2</text>
<rect x="49.90" y="346.30" width="18.77" height="10.48" fill="#9cc0e4" />
<rect x="68.67" y="346.30" width="18.77" height="10.48" fill="#c6daf0" />
<rect x="87.44" y="346.30" width="18.77" height="10.48" fill="#0b63c0" />
<rect x="106.21" y="346.30" width="18.77" height="10.48" fill="#ff7575" />
<rect x="124.98" y="346.30" width="18.77" height="10.48" fill="#dce8f5" />
<rect x="143.75" y="346.30" width="18.77" height="10.48" fill="#ff4c4c" />
<text x="0" y="0" font-size="8.51" text-anchor="end" fill="#231f20" stroke="#231f20" stroke-width="0.2" font-weight="normal"  transform="translate(48.2,364.77) scale(0.8929,1)">IFI27</text>
<rect x="49.90" y="356.78" width="18.77" height="10.48" fill="#fdeef0" />
<rect x="68.67" y="356.78" width="18.77" height="10.48" fill="#b4d0ec" />
<rect x="87.44" y="356.78" width="18.77" height="10.48" fill="#b0cde8" />
<rect x="106.21" y="356.78" width="18.77" height="10.48" fill="#ff8c8c" />
<rect x="124.98" y="356.78" width="18.77" height="10.48" fill="#ffdfe2" />
<rect x="143.75" y="356.78" width="18.77" height="10.48" fill="#c6dcf0" />
<text x="0" y="0" font-size="8.51" text-anchor="end" fill="#231f20" stroke="#231f20" stroke-width="0.2" font-weight="normal"  transform="translate(48.2,375.25) scale(0.8929,1)">IFIT2</text>
<rect x="49.90" y="367.26" width="18.77" height="10.48" fill="#fdf3f4" />
<rect x="68.67" y="367.26" width="18.77" height="10.48" fill="#f8f8fd" />
<rect x="87.44" y="367.26" width="18.77" height="10.48" fill="#b4d0ea" />
<rect x="106.21" y="367.26" width="18.77" height="10.48" fill="#ffe4e8" />
<rect x="124.98" y="367.26" width="18.77" height="10.48" fill="#ffe2e5" />
<rect x="143.75" y="367.26" width="18.77" height="10.48" fill="#fbfbfe" />
<text x="0" y="0" font-size="8.51" text-anchor="end" fill="#231f20" stroke="#231f20" stroke-width="0.2" font-weight="normal"  transform="translate(48.2,385.73) scale(0.8929,1)">IFIT1</text>
<rect x="49.90" y="377.74" width="18.77" height="10.48" fill="#5b9bd3" />
<rect x="68.67" y="377.74" width="18.77" height="10.48" fill="#b8d2ec" />
<rect x="87.44" y="377.74" width="18.77" height="10.48" fill="#ff7272" />
<rect x="106.21" y="377.74" width="18.77" height="10.48" fill="#d4e4f4" />
<rect x="124.98" y="377.74" width="18.77" height="10.48" fill="#c0d8f0" />
<rect x="143.75" y="377.74" width="18.77" height="10.48" fill="#ff9090" />
<text x="0" y="0" font-size="8.51" text-anchor="end" fill="#231f20" stroke="#231f20" stroke-width="0.2" font-weight="normal"  transform="translate(48.2,396.21) scale(0.8929,1)">IFIT3</text>
<rect x="49.90" y="388.22" width="18.77" height="10.48" fill="#f2f6fc" />
<rect x="68.67" y="388.22" width="18.77" height="10.48" fill="#c8dcf2" />
<rect x="87.44" y="388.22" width="18.77" height="10.48" fill="#fefefe" />
<rect x="106.21" y="388.22" width="18.77" height="10.48" fill="#f0f5fc" />
<rect x="124.98" y="388.22" width="18.77" height="10.48" fill="#fbf8fc" />
<rect x="143.75" y="388.22" width="18.77" height="10.48" fill="#ffc4cc" />
<text x="0" y="0" font-size="8.51" text-anchor="end" fill="#231f20" stroke="#231f20" stroke-width="0.2" font-weight="normal"  transform="translate(48.2,406.69) scale(0.8929,1)">PSME1</text>
<rect x="49.90" y="398.70" width="18.77" height="10.48" fill="#dde9f6" />
<rect x="68.67" y="398.70" width="18.77" height="10.48" fill="#fff8fa" />
<rect x="87.44" y="398.70" width="18.77" height="10.48" fill="#eaf2fb" />
<rect x="106.21" y="398.70" width="18.77" height="10.48" fill="#ffe6ea" />
<rect x="124.98" y="398.70" width="18.77" height="10.48" fill="#fff0f2" />
<rect x="143.75" y="398.70" width="18.77" height="10.48" fill="#fffafc" />
<text x="0" y="0" font-size="8.51" text-anchor="end" fill="#231f20" stroke="#231f20" stroke-width="0.2" font-weight="normal"  transform="translate(48.2,417.16999999999996) scale(0.8929,1)">IFIH1</text>
<rect x="49.90" y="409.18" width="18.77" height="10.48" fill="#eaf2fb" />
<rect x="68.67" y="409.18" width="18.77" height="10.48" fill="#fff8f8" />
<rect x="87.44" y="409.18" width="18.77" height="10.48" fill="#fcfcfe" />
<rect x="106.21" y="409.18" width="18.77" height="10.48" fill="#fff8fa" />
<rect x="124.98" y="409.18" width="18.77" height="10.48" fill="#edf3fb" />
<rect x="143.75" y="409.18" width="18.77" height="10.48" fill="#ffeaee" />
<text x="0" y="0" font-size="8.51" text-anchor="end" fill="#231f20" stroke="#231f20" stroke-width="0.2" font-weight="normal"  transform="translate(48.2,427.65) scale(0.8929,1)">IRF9</text>
<rect x="49.90" y="419.66" width="18.77" height="10.48" fill="#a8c8e8" />
<rect x="68.67" y="419.66" width="18.77" height="10.48" fill="#e4eef8" />
<rect x="87.44" y="419.66" width="18.77" height="10.48" fill="#ffc0c6" />
<rect x="106.21" y="419.66" width="18.77" height="10.48" fill="#ffb4bb" />
<rect x="124.98" y="419.66" width="18.77" height="10.48" fill="#ff9aa0" />
<rect x="143.75" y="419.66" width="18.77" height="10.48" fill="#4a90d0" />
<text x="0" y="0" font-size="8.51" text-anchor="end" fill="#231f20" stroke="#231f20" stroke-width="0.2" font-weight="normal"  transform="translate(48.2,438.13) scale(0.8929,1)">MX1</text>
<rect x="49.90" y="430.14" width="18.77" height="10.48" fill="#dce8f6" />
<rect x="68.67" y="430.14" width="18.77" height="10.48" fill="#ffe2e6" />
<rect x="87.44" y="430.14" width="18.77" height="10.48" fill="#fff6f8" />
<rect x="106.21" y="430.14" width="18.77" height="10.48" fill="#a4c6e6" />
<rect x="124.98" y="430.14" width="18.77" height="10.48" fill="#e6f0fa" />
<rect x="143.75" y="430.14" width="18.77" height="10.48" fill="#ff9ca2" />
<text x="0" y="0" font-size="8.51" text-anchor="end" fill="#231f20" stroke="#231f20" stroke-width="0.2" font-weight="normal"  transform="translate(48.2,448.61) scale(0.8929,1)">IRGM</text>
<rect x="49.90" y="440.62" width="18.77" height="10.48" fill="#ffc0c6" />
<rect x="68.67" y="440.62" width="18.77" height="10.48" fill="#cfe0f2" />
<rect x="87.44" y="440.62" width="18.77" height="10.48" fill="#fbfbfe" />
<rect x="106.21" y="440.62" width="18.77" height="10.48" fill="#eef4fc" />
<rect x="124.98" y="440.62" width="18.77" height="10.48" fill="#ffdde1" />
<rect x="143.75" y="440.62" width="18.77" height="10.48" fill="#d8e6f5" />
<text x="0" y="0" font-size="8.51" text-anchor="end" fill="#231f20" stroke="#231f20" stroke-width="0.2" font-weight="normal"  transform="translate(48.2,459.09000000000003) scale(0.8929,1)">STAT2</text>
<rect x="49.90" y="451.10" width="18.77" height="10.48" fill="#fbfbfe" />
<rect x="68.67" y="451.10" width="18.77" height="10.48" fill="#fff0f2" />
<rect x="87.44" y="451.10" width="18.77" height="10.48" fill="#fff4f6" />
<rect x="106.21" y="451.10" width="18.77" height="10.48" fill="#ffe2e6" />
<rect x="124.98" y="451.10" width="18.77" height="10.48" fill="#ffe4e8" />
<rect x="143.75" y="451.10" width="18.77" height="10.48" fill="#acc9e8" />
<text x="0" y="0" font-size="8.51" text-anchor="end" fill="#231f20" stroke="#231f20" stroke-width="0.2" font-weight="normal"  transform="translate(48.2,469.57) scale(0.8929,1)">IFI16</text>
<rect x="49.90" y="461.58" width="18.77" height="10.48" fill="#ffeef0" />
<rect x="68.67" y="461.58" width="18.77" height="10.48" fill="#fff4f6" />
<rect x="87.44" y="461.58" width="18.77" height="10.48" fill="#ffeaee" />
<rect x="106.21" y="461.58" width="18.77" height="10.48" fill="#f0f5fc" />
<rect x="124.98" y="461.58" width="18.77" height="10.48" fill="#e6eef9" />
<rect x="143.75" y="461.58" width="18.77" height="10.48" fill="#f6f8fd" />
<text x="0" y="0" font-size="8.51" text-anchor="end" fill="#231f20" stroke="#231f20" stroke-width="0.2" font-weight="normal"  transform="translate(48.2,480.04999999999995) scale(0.8929,1)">IFI44</text>
<rect x="49.90" y="472.06" width="18.77" height="10.48" fill="#ffe6ea" />
<rect x="68.67" y="472.06" width="18.77" height="10.48" fill="#b8d3ee" />
<rect x="87.44" y="472.06" width="18.77" height="10.48" fill="#ffadb2" />
<rect x="106.21" y="472.06" width="18.77" height="10.48" fill="#acc9e8" />
<rect x="124.98" y="472.06" width="18.77" height="10.48" fill="#ffc6cc" />
<rect x="143.75" y="472.06" width="18.77" height="10.48" fill="#e0ebf7" />
<text x="0" y="0" font-size="8.51" text-anchor="end" fill="#231f20" stroke="#231f20" stroke-width="0.2" font-weight="normal"  transform="translate(48.2,490.53) scale(0.8929,1)">IFITM1</text>
<rect x="49.90" y="482.54" width="18.77" height="10.48" fill="#ff7479" />
<rect x="68.67" y="482.54" width="18.77" height="10.48" fill="#b4d1ec" />
<rect x="87.44" y="482.54" width="18.77" height="10.48" fill="#e8f1fa" />
<rect x="106.21" y="482.54" width="18.77" height="10.48" fill="#fff2f4" />
<rect x="124.98" y="482.54" width="18.77" height="10.48" fill="#afcde9" />
<rect x="143.75" y="482.54" width="18.77" height="10.48" fill="#f8fafd" />
<text x="0" y="0" font-size="8.51" text-anchor="end" fill="#231f20" stroke="#231f20" stroke-width="0.2" font-weight="normal"  transform="translate(48.2,501.01) scale(0.8929,1)">STAT1</text>
<rect x="49.90" y="493.02" width="18.77" height="10.48" fill="#ffc4ca" />
<rect x="68.67" y="493.02" width="18.77" height="10.48" fill="#ffdde1" />
<rect x="87.44" y="493.02" width="18.77" height="10.48" fill="#ffb8bd" />
<rect x="106.21" y="493.02" width="18.77" height="10.48" fill="#b8d3ed" />
<rect x="124.98" y="493.02" width="18.77" height="10.48" fill="#d6e6f5" />
<rect x="143.75" y="493.02" width="18.77" height="10.48" fill="#b4d0ec" />
<text x="0" y="0" font-size="8.51" text-anchor="end" fill="#231f20" stroke="#231f20" stroke-width="0.2" font-weight="normal"  transform="translate(48.2,511.49) scale(0.8929,1)">IFI30</text>
<rect x="49.90" y="503.50" width="18.77" height="10.48" fill="#ffd0d6" />
<rect x="68.67" y="503.50" width="18.77" height="10.48" fill="#ffd6db" />
<rect x="87.44" y="503.50" width="18.77" height="10.48" fill="#ffc0c6" />
<rect x="106.21" y="503.50" width="18.77" height="10.48" fill="#c6dbf0" />
<rect x="124.98" y="503.50" width="18.77" height="10.48" fill="#bcd4ee" />
<rect x="143.75" y="503.50" width="18.77" height="10.48" fill="#c0d7ef" />
<text x="0" y="0" font-size="8.51" text-anchor="end" fill="#231f20" stroke="#231f20" stroke-width="0.2" font-weight="normal"  transform="translate(48.2,521.97) scale(0.8929,1)">ISG15</text>
<rect x="49.90" y="513.98" width="18.77" height="10.48" fill="#ffe0e4" />
<rect x="68.67" y="513.98" width="18.77" height="10.48" fill="#f5f8fd" />
<rect x="87.44" y="513.98" width="18.77" height="10.48" fill="#ff7f86" />
<rect x="106.21" y="513.98" width="18.77" height="10.48" fill="#8ab6de" />
<rect x="124.98" y="513.98" width="18.77" height="10.48" fill="#bad4ee" />
<rect x="143.75" y="513.98" width="18.77" height="10.48" fill="#dfe9f6" />
<text x="0" y="0" font-size="8.51" text-anchor="end" fill="#231f20" stroke="#231f20" stroke-width="0.2" font-weight="normal"  transform="translate(48.2,532.45) scale(0.8929,1)">CXCL10</text>
<rect x="49.90" y="524.46" width="18.77" height="10.48" fill="#ff4444" />
<rect x="68.67" y="524.46" width="18.77" height="10.48" fill="#ff2b2b" />
<rect x="87.44" y="524.46" width="18.77" height="10.48" fill="#ff2020" />
<rect x="106.21" y="524.46" width="18.77" height="10.48" fill="#0a64be" />
<rect x="124.98" y="524.46" width="18.77" height="10.48" fill="#0a64be" />
<rect x="143.75" y="524.46" width="18.77" height="10.48" fill="#0a64be" />
<line x1="68.67" y1="293.9" x2="68.67" y2="534.94" stroke="#fff" stroke-width="0.6" stroke-opacity="0.75"/>
<line x1="87.44" y1="293.9" x2="87.44" y2="534.94" stroke="#fff" stroke-width="0.6" stroke-opacity="0.75"/>
<line x1="106.21000000000001" y1="293.9" x2="106.21000000000001" y2="534.94" stroke="#fff" stroke-width="0.6" stroke-opacity="0.75"/>
<line x1="124.97999999999999" y1="293.9" x2="124.97999999999999" y2="534.94" stroke="#fff" stroke-width="0.6" stroke-opacity="0.75"/>
<line x1="143.75" y1="293.9" x2="143.75" y2="534.94" stroke="#fff" stroke-width="0.6" stroke-opacity="0.75"/>
<line x1="49.9" y1="304.38" x2="162.52" y2="304.38" stroke="#fff" stroke-width="0.6" stroke-opacity="0.75"/>
<line x1="49.9" y1="314.85999999999996" x2="162.52" y2="314.85999999999996" stroke="#fff" stroke-width="0.6" stroke-opacity="0.75"/>
<line x1="49.9" y1="325.34" x2="162.52" y2="325.34" stroke="#fff" stroke-width="0.6" stroke-opacity="0.75"/>
<line x1="49.9" y1="335.82" x2="162.52" y2="335.82" stroke="#fff" stroke-width="0.6" stroke-opacity="0.75"/>
<line x1="49.9" y1="346.29999999999995" x2="162.52" y2="346.29999999999995" stroke="#fff" stroke-width="0.6" stroke-opacity="0.75"/>
<line x1="49.9" y1="356.78" x2="162.52" y2="356.78" stroke="#fff" stroke-width="0.6" stroke-opacity="0.75"/>
<line x1="49.9" y1="367.26" x2="162.52" y2="367.26" stroke="#fff" stroke-width="0.6" stroke-opacity="0.75"/>
<line x1="49.9" y1="377.74" x2="162.52" y2="377.74" stroke="#fff" stroke-width="0.6" stroke-opacity="0.75"/>
<line x1="49.9" y1="388.21999999999997" x2="162.52" y2="388.21999999999997" stroke="#fff" stroke-width="0.6" stroke-opacity="0.75"/>
<line x1="49.9" y1="398.7" x2="162.52" y2="398.7" stroke="#fff" stroke-width="0.6" stroke-opacity="0.75"/>
<line x1="49.9" y1="409.17999999999995" x2="162.52" y2="409.17999999999995" stroke="#fff" stroke-width="0.6" stroke-opacity="0.75"/>
<line x1="49.9" y1="419.65999999999997" x2="162.52" y2="419.65999999999997" stroke="#fff" stroke-width="0.6" stroke-opacity="0.75"/>
<line x1="49.9" y1="430.14" x2="162.52" y2="430.14" stroke="#fff" stroke-width="0.6" stroke-opacity="0.75"/>
<line x1="49.9" y1="440.62" x2="162.52" y2="440.62" stroke="#fff" stroke-width="0.6" stroke-opacity="0.75"/>
<line x1="49.9" y1="451.1" x2="162.52" y2="451.1" stroke="#fff" stroke-width="0.6" stroke-opacity="0.75"/>
<line x1="49.9" y1="461.58" x2="162.52" y2="461.58" stroke="#fff" stroke-width="0.6" stroke-opacity="0.75"/>
<line x1="49.9" y1="472.05999999999995" x2="162.52" y2="472.05999999999995" stroke="#fff" stroke-width="0.6" stroke-opacity="0.75"/>
<line x1="49.9" y1="482.53999999999996" x2="162.52" y2="482.53999999999996" stroke="#fff" stroke-width="0.6" stroke-opacity="0.75"/>
<line x1="49.9" y1="493.02" x2="162.52" y2="493.02" stroke="#fff" stroke-width="0.6" stroke-opacity="0.75"/>
<line x1="49.9" y1="503.5" x2="162.52" y2="503.5" stroke="#fff" stroke-width="0.6" stroke-opacity="0.75"/>
<line x1="49.9" y1="513.98" x2="162.52" y2="513.98" stroke="#fff" stroke-width="0.6" stroke-opacity="0.75"/>
<line x1="49.9" y1="524.46" x2="162.52" y2="524.46" stroke="#fff" stroke-width="0.6" stroke-opacity="0.75"/>
<line x1="51.6" y1="292.8" x2="105" y2="292.8" stroke="#7a7a7a" stroke-width="1.6" />
<line x1="107.2" y1="292.8" x2="160.9" y2="292.8" stroke="#7a7a7a" stroke-width="1.6" />
<text x="0" y="0" font-size="8.74" text-anchor="middle" fill="#231f20" stroke="#231f20" stroke-width="0.2" font-weight="normal"  transform="translate(78.6,289.4) scale(0.8929,1)">Cfz</text>
<text x="0" y="0" font-size="8.74" text-anchor="middle" fill="#231f20" stroke="#231f20" stroke-width="0.2" font-weight="normal"  transform="translate(134.3,289.4) scale(0.8929,1)">ATRA+Cfz</text>
<defs><linearGradient id="cb" x1="0" x2="1" y1="0" y2="0"><stop offset="0" stop-color="#0a5fbf"/><stop offset="0.245" stop-color="#6a9fd6"/><stop offset="0.487" stop-color="#ffffff"/><stop offset="0.495" stop-color="#ffffff"/><stop offset="0.75" stop-color="#ff7a7a"/><stop offset="1" stop-color="#ff0000"/></linearGradient></defs>
<rect x="53.00" y="546.50" width="108.00" height="6.00" fill="url(#cb)" />
<text x="0" y="0" font-size="8.74" text-anchor="middle" fill="#231f20" stroke="#231f20" stroke-width="0.2" font-weight="normal"  transform="translate(51.5,544) scale(0.8929,1)">&#8722;1</text>
<text x="0" y="0" font-size="8.74" text-anchor="middle" fill="#231f20" stroke="#231f20" stroke-width="0.2" font-weight="normal"  transform="translate(158.3,544) scale(0.8929,1)">1</text>
<defs><filter id="bl" x="-50%" y="-100%" width="200%" height="300%"><feGaussianBlur stdDeviation="0.6"/></filter><filter id="bl2" x="-50%" y="-100%" width="200%" height="300%"><feGaussianBlur stdDeviation="0.9"/></filter></defs>
<text x="0" y="0" font-size="8.62" text-anchor="middle" fill="#231f20" stroke="#231f20" stroke-width="0.2" font-weight="normal"  transform="translate(227.7,289.7) scale(0.8929,1)">ARP-1</text>
<text x="0" y="0" font-size="8.62" text-anchor="middle" fill="#231f20" stroke="#231f20" stroke-width="0.2" font-weight="normal"  transform="translate(286.8,289.7) scale(0.8929,1)">MM.1S</text>
<line x1="201.3" y1="292.7" x2="254.6" y2="292.7" stroke="#231f20" stroke-width="0.9" />
<line x1="260.4" y1="292.7" x2="314.6" y2="292.7" stroke="#231f20" stroke-width="0.9" />
<text x="0" y="0" font-size="9.30" text-anchor="start" fill="#231f20" stroke="#231f20" stroke-width="0.2" font-weight="normal" transform="translate(209.40,336.3) rotate(-90) scale(0.8929,1)">DMSO</text>
<text x="0" y="0" font-size="9.30" text-anchor="start" fill="#231f20" stroke="#231f20" stroke-width="0.2" font-weight="normal" transform="translate(223.80,336.3) rotate(-90) scale(0.8929,1)">ATRA</text>
<text x="0" y="0" font-size="9.30" text-anchor="start" fill="#231f20" stroke="#231f20" stroke-width="0.2" font-weight="normal" transform="translate(237.90,336.3) rotate(-90) scale(0.8929,1)">Cfz</text>
<text x="0" y="0" font-size="9.30" text-anchor="start" fill="#231f20" stroke="#231f20" stroke-width="0.2" font-weight="normal" transform="translate(251.70,336.3) rotate(-90) scale(0.8929,1)">ATRA+Cfz</text>
<text x="0" y="0" font-size="9.30" text-anchor="start" fill="#231f20" stroke="#231f20" stroke-width="0.2" font-weight="normal" transform="translate(269.20,336.3) rotate(-90) scale(0.8929,1)">DMSO</text>
<text x="0" y="0" font-size="9.30" text-anchor="start" fill="#231f20" stroke="#231f20" stroke-width="0.2" font-weight="normal" transform="translate(283.00,336.3) rotate(-90) scale(0.8929,1)">ATRA</text>
<text x="0" y="0" font-size="9.30" text-anchor="start" fill="#231f20" stroke="#231f20" stroke-width="0.2" font-weight="normal" transform="translate(297.00,336.3) rotate(-90) scale(0.8929,1)">Cfz</text>
<text x="0" y="0" font-size="9.30" text-anchor="start" fill="#231f20" stroke="#231f20" stroke-width="0.2" font-weight="normal" transform="translate(311.50,336.3) rotate(-90) scale(0.8929,1)">ATRA+Cfz</text>
<rect x="199.10" y="337.80" width="57.80" height="12.70" fill="#b4b4b4" />
<rect x="258.80" y="337.80" width="58.00" height="12.70" fill="#c4c4c4" />
<rect x="200.35" y="343.15" width="11.50" height="2.60" rx="1.30" ry="1.30" fill="#000" fill-opacity="0.50" filter="url(#bl)"/>
<rect x="214.75" y="342.75" width="11.50" height="3.40" rx="1.70" ry="1.70" fill="#000" fill-opacity="0.88" filter="url(#bl)"/>
<rect x="228.85" y="343.25" width="11.50" height="2.40" rx="1.20" ry="1.20" fill="#000" fill-opacity="0.45" filter="url(#bl)"/>
<rect x="242.65" y="342.75" width="11.50" height="3.40" rx="1.70" ry="1.70" fill="#000" fill-opacity="0.85" filter="url(#bl)"/>
<rect x="260.45" y="342.95" width="11.50" height="2.40" rx="1.20" ry="1.20" fill="#000" fill-opacity="0.97" filter="url(#bl)"/>
<rect x="274.25" y="342.55" width="11.50" height="3.20" rx="1.60" ry="1.60" fill="#000" fill-opacity="0.98" filter="url(#bl)"/>
<rect x="288.25" y="343.15" width="11.50" height="2.00" rx="1.00" ry="1.00" fill="#000" fill-opacity="0.62" filter="url(#bl)"/>
<rect x="302.75" y="342.55" width="11.50" height="3.20" rx="1.60" ry="1.60" fill="#000" fill-opacity="0.98" filter="url(#bl)"/>
<rect x="199.60" y="338.30" width="56.80" height="11.70" fill="none" stroke="#111" stroke-width="1"/>
<rect x="259.30" y="338.30" width="57.00" height="11.70" fill="none" stroke="#111" stroke-width="1"/>
<text x="0" y="0" font-size="8.51" text-anchor="start" fill="#231f20" stroke="#231f20" stroke-width="0.2" font-weight="normal"  transform="translate(319.5,346.95) scale(0.8929,1)">IRF1</text>
<rect x="199.10" y="352.30" width="57.80" height="12.80" fill="#bcbcbc" />
<rect x="258.80" y="352.30" width="58.00" height="12.80" fill="#c8c8c8" />
<rect x="214.75" y="357.20" width="11.50" height="3.60" rx="1.80" ry="1.80" fill="#000" fill-opacity="0.95" filter="url(#bl)"/>
<rect x="228.85" y="357.75" width="11.50" height="2.50" rx="1.25" ry="1.25" fill="#000" fill-opacity="0.06" filter="url(#bl)"/>
<rect x="242.65" y="357.40" width="11.50" height="3.20" rx="1.60" ry="1.60" fill="#000" fill-opacity="0.72" filter="url(#bl)"/>
<rect x="260.45" y="357.20" width="11.50" height="3.00" rx="1.50" ry="1.50" fill="#000" fill-opacity="0.62" filter="url(#bl)"/>
<rect x="274.25" y="356.90" width="11.50" height="3.60" rx="1.80" ry="1.80" fill="#000" fill-opacity="0.90" filter="url(#bl)"/>
<rect x="288.25" y="357.20" width="11.50" height="3.00" rx="1.50" ry="1.50" fill="#000" fill-opacity="0.68" filter="url(#bl)"/>
<rect x="302.75" y="356.80" width="11.50" height="3.80" rx="1.90" ry="1.90" fill="#000" fill-opacity="0.96" filter="url(#bl)"/>
<rect x="199.60" y="352.80" width="56.80" height="11.80" fill="none" stroke="#111" stroke-width="1"/>
<rect x="259.30" y="352.80" width="57.00" height="11.80" fill="none" stroke="#111" stroke-width="1"/>
<text x="0" y="0" font-size="8.51" text-anchor="start" fill="#231f20" stroke="#231f20" stroke-width="0.2" font-weight="normal"  transform="translate(319.5,361.50000000000006) scale(0.8929,1)">OAS1</text>
<rect x="199.10" y="367.10" width="57.80" height="12.50" fill="#c0c0c0" />
<rect x="258.80" y="367.10" width="58.00" height="12.50" fill="#c4c4c4" />
<rect x="200.35" y="372.05" width="11.50" height="3.20" rx="1.60" ry="1.60" fill="#000" fill-opacity="0.75" filter="url(#bl)"/>
<rect x="214.75" y="371.95" width="11.50" height="3.40" rx="1.70" ry="1.70" fill="#000" fill-opacity="0.75" filter="url(#bl)"/>
<rect x="228.85" y="371.75" width="11.50" height="3.80" rx="1.90" ry="1.90" fill="#000" fill-opacity="0.97" filter="url(#bl)"/>
<rect x="242.65" y="371.85" width="11.50" height="3.60" rx="1.80" ry="1.80" fill="#000" fill-opacity="0.90" filter="url(#bl)"/>
<rect x="260.45" y="371.45" width="11.50" height="3.80" rx="1.90" ry="1.90" fill="#000" fill-opacity="0.92" filter="url(#bl)"/>
<rect x="274.25" y="371.35" width="11.50" height="4.00" rx="2.00" ry="2.00" fill="#000" fill-opacity="0.97" filter="url(#bl)"/>
<rect x="288.25" y="371.35" width="11.50" height="4.00" rx="2.00" ry="2.00" fill="#000" fill-opacity="0.95" filter="url(#bl)"/>
<rect x="302.75" y="371.35" width="11.50" height="4.00" rx="2.00" ry="2.00" fill="#000" fill-opacity="0.95" filter="url(#bl)"/>
<rect x="199.60" y="367.60" width="56.80" height="11.50" fill="none" stroke="#111" stroke-width="1"/>
<rect x="259.30" y="367.60" width="57.00" height="11.50" fill="none" stroke="#111" stroke-width="1"/>
<text x="0" y="0" font-size="8.51" text-anchor="start" fill="#231f20" stroke="#231f20" stroke-width="0.2" font-weight="normal"  transform="translate(319.5,376.15000000000003) scale(0.8929,1)">OAS2</text>
<rect x="199.10" y="381.30" width="57.80" height="12.50" fill="#c8c8c8" />
<rect x="258.80" y="381.30" width="58.00" height="12.50" fill="#c8c8c8" />
<rect x="200.35" y="386.65" width="11.50" height="2.40" rx="1.20" ry="1.20" fill="#000" fill-opacity="0.12" filter="url(#bl)"/>
<rect x="214.75" y="386.15" width="11.50" height="3.40" rx="1.70" ry="1.70" fill="#000" fill-opacity="0.80" filter="url(#bl)"/>
<rect x="228.85" y="386.35" width="11.50" height="3.00" rx="1.50" ry="1.50" fill="#000" fill-opacity="0.58" filter="url(#bl)"/>
<rect x="242.65" y="385.85" width="11.50" height="4.00" rx="2.00" ry="2.00" fill="#000" fill-opacity="1.00" filter="url(#bl)"/>
<rect x="260.45" y="386.05" width="11.50" height="3.00" rx="1.50" ry="1.50" fill="#000" fill-opacity="0.62" filter="url(#bl)"/>
<rect x="274.25" y="385.75" width="11.50" height="3.60" rx="1.80" ry="1.80" fill="#000" fill-opacity="0.90" filter="url(#bl)"/>
<rect x="288.25" y="386.05" width="11.50" height="3.00" rx="1.50" ry="1.50" fill="#000" fill-opacity="0.62" filter="url(#bl)"/>
<rect x="302.75" y="385.85" width="11.50" height="3.40" rx="1.70" ry="1.70" fill="#000" fill-opacity="0.80" filter="url(#bl)"/>
<rect x="199.60" y="381.80" width="56.80" height="11.50" fill="none" stroke="#111" stroke-width="1"/>
<rect x="259.30" y="381.80" width="57.00" height="11.50" fill="none" stroke="#111" stroke-width="1"/>
<text x="0" y="0" font-size="8.51" text-anchor="start" fill="#231f20" stroke="#231f20" stroke-width="0.2" font-weight="normal"  transform="translate(319.5,390.35) scale(0.8929,1)">OAS3</text>
<rect x="199.10" y="395.30" width="57.80" height="12.60" fill="#d0d0d0" />
<rect x="258.80" y="395.30" width="58.00" height="12.60" fill="#d0d0d0" />
<rect x="200.35" y="399.90" width="11.50" height="4.00" rx="2.00" ry="2.00" fill="#000" fill-opacity="1.00" filter="url(#bl)"/>
<rect x="214.75" y="400.20" width="11.50" height="3.40" rx="1.70" ry="1.70" fill="#000" fill-opacity="0.98" filter="url(#bl)"/>
<rect x="228.85" y="399.90" width="11.50" height="4.00" rx="2.00" ry="2.00" fill="#000" fill-opacity="1.00" filter="url(#bl)"/>
<rect x="242.65" y="399.70" width="11.50" height="4.40" rx="2.20" ry="2.20" fill="#000" fill-opacity="1.00" filter="url(#bl)"/>
<rect x="260.45" y="399.60" width="11.50" height="4.00" rx="2.00" ry="2.00" fill="#000" fill-opacity="1.00" filter="url(#bl)"/>
<rect x="274.25" y="399.60" width="11.50" height="4.00" rx="2.00" ry="2.00" fill="#000" fill-opacity="1.00" filter="url(#bl)"/>
<rect x="288.25" y="399.60" width="11.50" height="4.00" rx="2.00" ry="2.00" fill="#000" fill-opacity="1.00" filter="url(#bl)"/>
<rect x="302.75" y="399.60" width="11.50" height="4.00" rx="2.00" ry="2.00" fill="#000" fill-opacity="1.00" filter="url(#bl)"/>
<rect x="199.60" y="395.80" width="56.80" height="11.60" fill="none" stroke="#111" stroke-width="1"/>
<rect x="259.30" y="395.80" width="57.00" height="11.60" fill="none" stroke="#111" stroke-width="1"/>
<text x="0" y="0" font-size="8.51" text-anchor="start" fill="#231f20" stroke="#231f20" stroke-width="0.2" font-weight="normal"  transform="translate(319.5,404.40000000000003) scale(0.8929,1)">Actin</text>
<text x="0" y="0" font-size="8.74" text-anchor="middle" fill="#231f20" stroke="#231f20" stroke-width="0.2" font-weight="normal"  transform="translate(392.5,299.5) scale(0.8929,1)">DMSO</text>
<text x="0" y="0" font-size="8.74" text-anchor="middle" fill="#231f20" stroke="#231f20" stroke-width="0.2" font-weight="normal"  transform="translate(457,299.5) scale(0.8929,1)">ATRA</text>
<line x1="365.6" y1="301.6" x2="419.3" y2="301.6" stroke="#231f20" stroke-width="0.9" />
<line x1="430.1" y1="301.6" x2="483.7" y2="301.6" stroke="#231f20" stroke-width="0.9" />
<text x="0" y="0" font-size="8.62" text-anchor="middle" fill="#231f20" stroke="#231f20" stroke-width="0.2" font-weight="normal"  transform="translate(377.7,311.0) scale(0.8929,1)">ARP-1</text>
<line x1="366" y1="313.2" x2="390.2" y2="313.2" stroke="#231f20" stroke-width="0.9" />
<text x="0" y="0" font-size="8.62" text-anchor="middle" fill="#231f20" stroke="#231f20" stroke-width="0.2" font-weight="normal"  transform="translate(408,311.0) scale(0.8929,1)">MM.1S</text>
<line x1="395.4" y1="313.2" x2="420.5" y2="313.2" stroke="#231f20" stroke-width="0.9" />
<text x="0" y="0" font-size="8.62" text-anchor="middle" fill="#231f20" stroke="#231f20" stroke-width="0.2" font-weight="normal"  transform="translate(441.3,311.0) scale(0.8929,1)">ARP-1</text>
<line x1="429.1" y1="313.2" x2="453.4" y2="313.2" stroke="#231f20" stroke-width="0.9" />
<text x="0" y="0" font-size="8.62" text-anchor="middle" fill="#231f20" stroke="#231f20" stroke-width="0.2" font-weight="normal"  transform="translate(471.5,311.0) scale(0.8929,1)">MM.1S</text>
<line x1="459.4" y1="313.2" x2="484.7" y2="313.2" stroke="#231f20" stroke-width="0.9" />
<text x="0" y="0" font-size="8.18" text-anchor="start" fill="#231f20" stroke="#231f20" stroke-width="0.2" font-weight="normal" transform="translate(371.40,349.3) rotate(-90) scale(0.8929,1)">CTR-KD</text>
<text x="0" y="0" font-size="8.18" text-anchor="start" fill="#231f20" stroke="#231f20" stroke-width="0.2" font-weight="normal" transform="translate(385.60,349.3) rotate(-90) scale(0.8929,1)">IRF1-KD</text>
<text x="0" y="0" font-size="8.18" text-anchor="start" fill="#231f20" stroke="#231f20" stroke-width="0.2" font-weight="normal" transform="translate(400.60,349.3) rotate(-90) scale(0.8929,1)">CTR-KD</text>
<text x="0" y="0" font-size="8.18" text-anchor="start" fill="#231f20" stroke="#231f20" stroke-width="0.2" font-weight="normal" transform="translate(415.20,349.3) rotate(-90) scale(0.8929,1)">IRF1-KD</text>
<text x="0" y="0" font-size="8.18" text-anchor="start" fill="#231f20" stroke="#231f20" stroke-width="0.2" font-weight="normal" transform="translate(431.80,349.3) rotate(-90) scale(0.8929,1)">CTR-KD</text>
<text x="0" y="0" font-size="8.18" text-anchor="start" fill="#231f20" stroke="#231f20" stroke-width="0.2" font-weight="normal" transform="translate(445.80,349.3) rotate(-90) scale(0.8929,1)">IRF1-KD</text>
<text x="0" y="0" font-size="8.18" text-anchor="start" fill="#231f20" stroke="#231f20" stroke-width="0.2" font-weight="normal" transform="translate(460.60,349.3) rotate(-90) scale(0.8929,1)">CTR-KD</text>
<text x="0" y="0" font-size="8.18" text-anchor="start" fill="#231f20" stroke="#231f20" stroke-width="0.2" font-weight="normal" transform="translate(475.20,349.3) rotate(-90) scale(0.8929,1)">IRF1-KD</text>
<rect x="361.20" y="352.40" width="58.30" height="12.90" fill="#c4c4c4" />
<rect x="421.00" y="352.40" width="57.60" height="12.90" fill="#c4c4c4" />
<rect x="363.05" y="357.55" width="11.50" height="2.60" rx="1.30" ry="1.30" fill="#000" fill-opacity="0.08" filter="url(#bl2)"/>
<rect x="377.25" y="357.55" width="11.50" height="2.60" rx="1.30" ry="1.30" fill="#000" fill-opacity="0.05" filter="url(#bl2)"/>
<rect x="392.25" y="357.35" width="11.50" height="3.00" rx="1.50" ry="1.50" fill="#000" fill-opacity="0.40" filter="url(#bl2)"/>
<rect x="406.85" y="357.35" width="11.50" height="3.00" rx="1.50" ry="1.50" fill="#000" fill-opacity="0.28" filter="url(#bl2)"/>
<rect x="423.45" y="357.25" width="11.50" height="3.20" rx="1.60" ry="1.60" fill="#000" fill-opacity="0.72" filter="url(#bl2)"/>
<rect x="437.45" y="357.55" width="11.50" height="2.60" rx="1.30" ry="1.30" fill="#000" fill-opacity="0.22" filter="url(#bl2)"/>
<rect x="452.25" y="357.15" width="11.50" height="3.40" rx="1.70" ry="1.70" fill="#000" fill-opacity="0.85" filter="url(#bl2)"/>
<rect x="466.85" y="357.55" width="11.50" height="2.60" rx="1.30" ry="1.30" fill="#000" fill-opacity="0.22" filter="url(#bl2)"/>
<rect x="361.70" y="352.90" width="57.30" height="11.90" fill="none" stroke="#111" stroke-width="1"/>
<rect x="421.50" y="352.90" width="56.60" height="11.90" fill="none" stroke="#111" stroke-width="1"/>
<rect x="361.20" y="367.30" width="58.30" height="13.30" fill="#d0d0d0" />
<rect x="421.00" y="367.30" width="57.60" height="13.30" fill="#d0d0d0" />
<rect x="363.05" y="372.15" width="11.50" height="3.60" rx="1.80" ry="1.80" fill="#000" fill-opacity="1.00" filter="url(#bl)"/>
<rect x="377.25" y="372.35" width="11.50" height="3.20" rx="1.60" ry="1.60" fill="#000" fill-opacity="0.95" filter="url(#bl)"/>
<rect x="392.25" y="372.05" width="11.50" height="3.80" rx="1.90" ry="1.90" fill="#000" fill-opacity="1.00" filter="url(#bl)"/>
<rect x="406.85" y="372.15" width="11.50" height="3.60" rx="1.80" ry="1.80" fill="#000" fill-opacity="1.00" filter="url(#bl)"/>
<rect x="423.45" y="372.25" width="11.50" height="3.40" rx="1.70" ry="1.70" fill="#000" fill-opacity="1.00" filter="url(#bl)"/>
<rect x="437.45" y="372.45" width="11.50" height="3.00" rx="1.50" ry="1.50" fill="#000" fill-opacity="0.95" filter="url(#bl)"/>
<rect x="452.25" y="372.05" width="11.50" height="3.80" rx="1.90" ry="1.90" fill="#000" fill-opacity="1.00" filter="url(#bl)"/>
<rect x="466.85" y="372.05" width="11.50" height="3.80" rx="1.90" ry="1.90" fill="#000" fill-opacity="1.00" filter="url(#bl)"/>
<rect x="361.70" y="367.80" width="57.30" height="12.30" fill="none" stroke="#111" stroke-width="1"/>
<rect x="421.50" y="367.80" width="56.60" height="12.30" fill="none" stroke="#111" stroke-width="1"/>
<text x="0" y="0" font-size="8.51" text-anchor="start" fill="#231f20" stroke="#231f20" stroke-width="0.2" font-weight="normal"  transform="translate(481.6,362.6) scale(0.8929,1)">IRF1</text>
<text x="0" y="0" font-size="8.51" text-anchor="start" fill="#231f20" stroke="#231f20" stroke-width="0.2" font-weight="normal"  transform="translate(481.6,376.7) scale(0.8929,1)">Actin</text>
<text x="0" y="0" font-size="8.30" text-anchor="middle" fill="#231f20" stroke="#231f20" stroke-width="0.2" font-weight="normal" transform="translate(191.0,483.3) rotate(-90) scale(0.88,1)">Apoptosis %</text>
<line x1="212.7" y1="441.7" x2="212.7" y2="524.7" stroke="#231f20" stroke-width="1.0" />
<line x1="209.6" y1="524.3" x2="212.7" y2="524.3" stroke="#231f20" stroke-width="0.9" />
<text x="0" y="0" font-size="8.74" text-anchor="end" fill="#231f20" stroke="#231f20" stroke-width="0.2" font-weight="normal"  transform="translate(206.8,527.0) scale(0.8929,1)">0</text>
<line x1="209.6" y1="503.82499999999993" x2="212.7" y2="503.82499999999993" stroke="#231f20" stroke-width="0.9" />
<text x="0" y="0" font-size="8.74" text-anchor="end" fill="#231f20" stroke="#231f20" stroke-width="0.2" font-weight="normal"  transform="translate(206.8,506.5249999999999) scale(0.8929,1)">20</text>
<line x1="209.6" y1="483.34999999999997" x2="212.7" y2="483.34999999999997" stroke="#231f20" stroke-width="0.9" />
<text x="0" y="0" font-size="8.74" text-anchor="end" fill="#231f20" stroke="#231f20" stroke-width="0.2" font-weight="normal"  transform="translate(206.8,486.04999999999995) scale(0.8929,1)">40</text>
<line x1="209.6" y1="462.87499999999994" x2="212.7" y2="462.87499999999994" stroke="#231f20" stroke-width="0.9" />
<text x="0" y="0" font-size="8.74" text-anchor="end" fill="#231f20" stroke="#231f20" stroke-width="0.2" font-weight="normal"  transform="translate(206.8,465.57499999999993) scale(0.8929,1)">60</text>
<line x1="209.6" y1="442.4" x2="212.7" y2="442.4" stroke="#231f20" stroke-width="0.9" />
<text x="0" y="0" font-size="8.74" text-anchor="end" fill="#231f20" stroke="#231f20" stroke-width="0.2" font-weight="normal"  transform="translate(206.8,445.09999999999997) scale(0.8929,1)">80</text>
<line x1="212.7" y1="524.3" x2="425.8" y2="524.3" stroke="#231f20" stroke-width="1.0" />
<rect x="216.90" y="440.50" width="9.30" height="5.30" fill="#c8102e" />
<rect x="216.90" y="451.70" width="9.30" height="5.30" fill="#19508c" />
<text x="0" y="0" font-size="8.51" text-anchor="start" fill="#231f20" stroke="#231f20" stroke-width="0.2" font-weight="normal"  transform="translate(229.4,445.9) scale(0.8929,1)">Ctrl-KD</text>
<text x="0" y="0" font-size="8.51" text-anchor="start" fill="#231f20" stroke="#231f20" stroke-width="0.2" font-weight="normal"  transform="translate(229.4,457.0) scale(0.8929,1)">IRF1-KD</text>
<line x1="219.35" y1="509.6" x2="219.35" y2="511" stroke="#c8102e" stroke-width="0.7" />
<line x1="217.75" y1="509.6" x2="220.95" y2="509.6" stroke="#c8102e" stroke-width="0.7" />
<rect x="216.75" y="511.25" width="5.20" height="13.05" fill="#c8102e" stroke="#b00c28" stroke-width="0.5"/>
<line x1="228.15" y1="509.3" x2="228.15" y2="511" stroke="#19508c" stroke-width="0.7" />
<line x1="226.55" y1="509.3" x2="229.75" y2="509.3" stroke="#19508c" stroke-width="0.7" />
<rect x="225.55" y="511.25" width="5.20" height="13.05" fill="#19508c" stroke="#123f70" stroke-width="0.5"/>
<line x1="243.04999999999998" y1="509.3" x2="243.04999999999998" y2="510.3" stroke="#c8102e" stroke-width="0.7" />
<line x1="241.45" y1="509.3" x2="244.64999999999998" y2="509.3" stroke="#c8102e" stroke-width="0.7" />
<rect x="240.45" y="510.55" width="5.20" height="13.75" fill="#c8102e" stroke="#b00c28" stroke-width="0.5"/>
<line x1="251.85" y1="508.4" x2="251.85" y2="509.9" stroke="#19508c" stroke-width="0.7" />
<line x1="250.25" y1="508.4" x2="253.45" y2="508.4" stroke="#19508c" stroke-width="0.7" />
<rect x="249.25" y="510.15" width="5.20" height="14.15" fill="#19508c" stroke="#123f70" stroke-width="0.5"/>
<line x1="266.65000000000003" y1="497.2" x2="266.65000000000003" y2="500.4" stroke="#c8102e" stroke-width="0.7" />
<line x1="265.05" y1="497.2" x2="268.25000000000006" y2="497.2" stroke="#c8102e" stroke-width="0.7" />
<rect x="264.05" y="500.65" width="5.20" height="23.65" fill="#c8102e" stroke="#b00c28" stroke-width="0.5"/>
<line x1="275.55" y1="497.8" x2="275.55" y2="500.8" stroke="#19508c" stroke-width="0.7" />
<line x1="273.95" y1="497.8" x2="277.15000000000003" y2="497.8" stroke="#19508c" stroke-width="0.7" />
<rect x="272.95" y="501.05" width="5.20" height="23.25" fill="#19508c" stroke="#123f70" stroke-width="0.5"/>
<line x1="290.65000000000003" y1="465" x2="290.65000000000003" y2="470.8" stroke="#c8102e" stroke-width="0.7" />
<line x1="289.05" y1="465" x2="292.25000000000006" y2="465" stroke="#c8102e" stroke-width="0.7" />
<rect x="288.05" y="471.05" width="5.20" height="53.25" fill="#c8102e" stroke="#b00c28" stroke-width="0.5"/>
<line x1="299.35" y1="497.2" x2="299.35" y2="498.9" stroke="#19508c" stroke-width="0.7" />
<line x1="297.75" y1="497.2" x2="300.95000000000005" y2="497.2" stroke="#19508c" stroke-width="0.7" />
<rect x="296.75" y="499.15" width="5.20" height="25.15" fill="#19508c" stroke="#123f70" stroke-width="0.5"/>
<line x1="338.25" y1="506.3" x2="338.25" y2="507.5" stroke="#c8102e" stroke-width="0.7" />
<line x1="336.65" y1="506.3" x2="339.85" y2="506.3" stroke="#c8102e" stroke-width="0.7" />
<rect x="335.65" y="507.75" width="5.20" height="16.55" fill="#c8102e" stroke="#b00c28" stroke-width="0.5"/>
<line x1="347.15000000000003" y1="505.2" x2="347.15000000000003" y2="506.6" stroke="#19508c" stroke-width="0.7" />
<line x1="345.55" y1="505.2" x2="348.75000000000006" y2="505.2" stroke="#19508c" stroke-width="0.7" />
<rect x="344.55" y="506.85" width="5.20" height="17.45" fill="#19508c" stroke="#123f70" stroke-width="0.5"/>
<line x1="362.05" y1="506.6" x2="362.05" y2="507.8" stroke="#c8102e" stroke-width="0.7" />
<line x1="360.45" y1="506.6" x2="363.65000000000003" y2="506.6" stroke="#c8102e" stroke-width="0.7" />
<rect x="359.45" y="508.05" width="5.20" height="16.25" fill="#c8102e" stroke="#b00c28" stroke-width="0.5"/>
<line x1="371.05" y1="506.6" x2="371.05" y2="507.5" stroke="#19508c" stroke-width="0.7" />
<line x1="369.45" y1="506.6" x2="372.65000000000003" y2="506.6" stroke="#19508c" stroke-width="0.7" />
<rect x="368.45" y="507.75" width="5.20" height="16.55" fill="#19508c" stroke="#123f70" stroke-width="0.5"/>
<line x1="385.85" y1="468.5" x2="385.85" y2="475.2" stroke="#c8102e" stroke-width="0.7" />
<line x1="384.25" y1="468.5" x2="387.45000000000005" y2="468.5" stroke="#c8102e" stroke-width="0.7" />
<rect x="383.25" y="475.45" width="5.20" height="48.85" fill="#c8102e" stroke="#b00c28" stroke-width="0.5"/>
<line x1="394.85" y1="472" x2="394.85" y2="476.5" stroke="#19508c" stroke-width="0.7" />
<line x1="393.25" y1="472" x2="396.45000000000005" y2="472" stroke="#19508c" stroke-width="0.7" />
<rect x="392.25" y="476.75" width="5.20" height="47.55" fill="#19508c" stroke="#123f70" stroke-width="0.5"/>
<line x1="410.15000000000003" y1="446.4" x2="410.15000000000003" y2="450.2" stroke="#c8102e" stroke-width="0.7" />
<line x1="408.55" y1="446.4" x2="411.75000000000006" y2="446.4" stroke="#c8102e" stroke-width="0.7" />
<rect x="407.55" y="450.45" width="5.20" height="73.85" fill="#c8102e" stroke="#b00c28" stroke-width="0.5"/>
<line x1="418.75" y1="470.3" x2="418.75" y2="475.5" stroke="#19508c" stroke-width="0.7" />
<line x1="417.15" y1="470.3" x2="420.35" y2="470.3" stroke="#19508c" stroke-width="0.7" />
<rect x="416.15" y="475.75" width="5.20" height="48.55" fill="#19508c" stroke="#123f70" stroke-width="0.5"/>
<line x1="263.8" y1="493.6" x2="278.7" y2="493.6" stroke="#333333" stroke-width="1.0" />
<line x1="263.9" y1="452.4" x2="294.3" y2="452.4" stroke="#333333" stroke-width="1.0" />
<line x1="276.2" y1="442.2" x2="306.8" y2="442.2" stroke="#333333" stroke-width="1.0" />
<line x1="289.5" y1="461.5" x2="304.7" y2="461.5" stroke="#333333" stroke-width="1.0" />
<line x1="383" y1="464.4" x2="398.7" y2="464.4" stroke="#333333" stroke-width="1.0" />
<line x1="381.6" y1="432.3" x2="411.9" y2="432.3" stroke="#333333" stroke-width="1.0" />
<line x1="392.9" y1="423.7" x2="423.2" y2="423.7" stroke="#333333" stroke-width="1.0" />
<line x1="409" y1="440.5" x2="423.7" y2="440.5" stroke="#333333" stroke-width="1.0" />
<text x="0" y="0" font-size="8.29" text-anchor="middle" fill="#333333" stroke="#333333" stroke-width="0.2" font-weight="normal"  transform="translate(271.3,491.2) scale(0.8929,1)">n.s.</text>
<circle cx="277.35" cy="448.40" r="1.1" fill="#1a1a1a"/>
<circle cx="281.05" cy="448.40" r="1.1" fill="#1a1a1a"/>
<text x="0" y="0" font-size="8.29" text-anchor="middle" fill="#333333" stroke="#333333" stroke-width="0.2" font-weight="normal"  transform="translate(291.4,439.6) scale(0.8929,1)">n.s.</text>
<circle cx="294.95" cy="457.60" r="1.1" fill="#1a1a1a"/>
<circle cx="298.65" cy="457.60" r="1.1" fill="#1a1a1a"/>
<text x="0" y="0" font-size="8.29" text-anchor="middle" fill="#333333" stroke="#333333" stroke-width="0.2" font-weight="normal"  transform="translate(391.4,462.2) scale(0.8929,1)">n.s.</text>
<circle cx="394.95" cy="428.50" r="1.1" fill="#1a1a1a"/>
<circle cx="398.65" cy="428.50" r="1.1" fill="#1a1a1a"/>
<text x="0" y="0" font-size="8.29" text-anchor="middle" fill="#333333" stroke="#333333" stroke-width="0.2" font-weight="normal"  transform="translate(407.6,421.1) scale(0.8929,1)">n.s.</text>
<circle cx="414.45" cy="436.80" r="1.1" fill="#1a1a1a"/>
<circle cx="418.15" cy="436.80" r="1.1" fill="#1a1a1a"/>
<text x="0" y="0" font-size="8.40" text-anchor="end" fill="#231f20" stroke="#231f20" stroke-width="0.2" font-weight="normal" transform="translate(227.30,530.90) rotate(-45) scale(0.8929,1)">DMSO</text>
<text x="0" y="0" font-size="8.40" text-anchor="end" fill="#231f20" stroke="#231f20" stroke-width="0.2" font-weight="normal" transform="translate(250.20,530.90) rotate(-45) scale(0.8929,1)">ATRA</text>
<text x="0" y="0" font-size="8.40" text-anchor="end" fill="#231f20" stroke="#231f20" stroke-width="0.2" font-weight="normal" transform="translate(271.80,530.40) rotate(-45) scale(0.8929,1)">Cfz</text>
<text x="0" y="0" font-size="8.40" text-anchor="end" fill="#231f20" stroke="#231f20" stroke-width="0.2" font-weight="normal" transform="translate(296.00,530.40) rotate(-45) scale(0.8929,1)">ATRA+Cfz</text>
<text x="0" y="0" font-size="8.40" text-anchor="end" fill="#231f20" stroke="#231f20" stroke-width="0.2" font-weight="normal" transform="translate(346.80,530.90) rotate(-45) scale(0.8929,1)">DMSO</text>
<text x="0" y="0" font-size="8.40" text-anchor="end" fill="#231f20" stroke="#231f20" stroke-width="0.2" font-weight="normal" transform="translate(369.70,530.90) rotate(-45) scale(0.8929,1)">ATRA</text>
<text x="0" y="0" font-size="8.40" text-anchor="end" fill="#231f20" stroke="#231f20" stroke-width="0.2" font-weight="normal" transform="translate(391.30,530.40) rotate(-45) scale(0.8929,1)">Cfz</text>
<text x="0" y="0" font-size="8.40" text-anchor="end" fill="#231f20" stroke="#231f20" stroke-width="0.2" font-weight="normal" transform="translate(415.50,530.40) rotate(-45) scale(0.8929,1)">ATRA+Cfz</text>
<line x1="203.5" y1="559.6" x2="280.2" y2="559.6" stroke="#231f20" stroke-width="0.9" />
<line x1="324.8" y1="559.6" x2="401.5" y2="559.6" stroke="#231f20" stroke-width="0.9" />
<text x="0" y="0" font-size="8.85" text-anchor="middle" fill="#231f20" stroke="#231f20" stroke-width="0.2" font-weight="normal"  transform="translate(242.5,569.3) scale(0.8929,1)">ARP-1</text>
<text x="0" y="0" font-size="8.85" text-anchor="middle" fill="#231f20" stroke="#231f20" stroke-width="0.2" font-weight="normal"  transform="translate(363.3,569.3) scale(0.8929,1)">MM.1S</text>
</svg>
</body></html>
